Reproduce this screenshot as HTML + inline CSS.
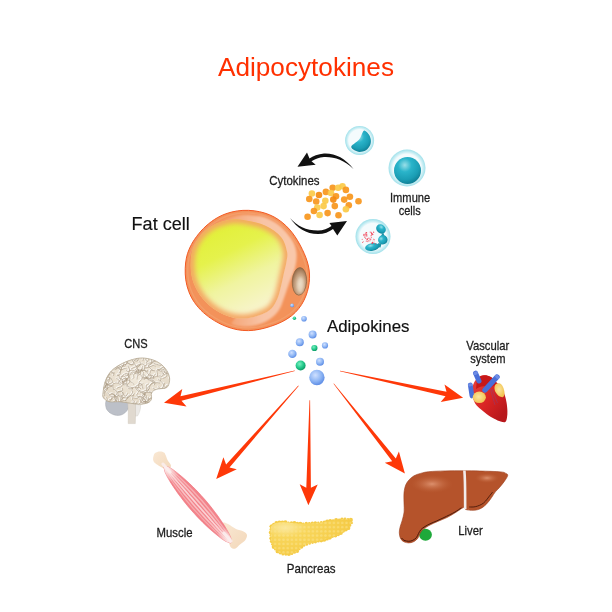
<!DOCTYPE html>
<html><head><meta charset="utf-8"><style>
html,body{margin:0;padding:0;background:#fff;}
svg{display:block;}
text{font-family:"Liberation Sans", sans-serif;}
</style></head><body>
<svg width="612" height="612" viewBox="0 0 612 612">
<rect width="612" height="612" fill="#fff"/>
<defs>
 <filter id="blur1" x="-20%" y="-20%" width="140%" height="140%"><feGaussianBlur stdDeviation="1"/></filter>
 <filter id="blur05" x="-20%" y="-20%" width="140%" height="140%"><feGaussianBlur stdDeviation="0.5"/></filter>
 <filter id="blur3" x="-30%" y="-30%" width="160%" height="160%"><feGaussianBlur stdDeviation="2.6"/></filter>
 <filter id="blur15" x="-10%" y="-10%" width="120%" height="120%"><feGaussianBlur stdDeviation="1.5"/></filter>
 <filter id="blur22" x="-30%" y="-30%" width="160%" height="160%"><feGaussianBlur stdDeviation="2.2"/></filter>
 <filter id="blur2" x="-30%" y="-30%" width="160%" height="160%"><feGaussianBlur stdDeviation="2"/></filter>
 <linearGradient id="gYellow" x1="0.3" y1="0.08" x2="0.68" y2="0.88">
   <stop offset="0" stop-color="#e2f03a"/>
   <stop offset="0.3" stop-color="#e5f24c"/>
   <stop offset="0.65" stop-color="#f0f4a0"/>
   <stop offset="1" stop-color="#f7f4c8"/>
 </linearGradient>
 <radialGradient id="gEdge" cx="0.5" cy="0.5" r="0.5">
   <stop offset="0.7" stop-color="#f5bc70" stop-opacity="0"/>
   <stop offset="0.87" stop-color="#f5b468" stop-opacity="0.55"/>
   <stop offset="0.96" stop-color="#f4a262" stop-opacity="0.92"/>
   <stop offset="1" stop-color="#f3985c" stop-opacity="1"/>
 </radialGradient>
 <linearGradient id="gLight" x1="0" y1="0" x2="1" y2="0">
   <stop offset="0" stop-color="#f8c4a6" stop-opacity="0"/>
   <stop offset="0.35" stop-color="#f8c4a6" stop-opacity="0.6"/>
   <stop offset="0.6" stop-color="#f8c4a6" stop-opacity="1"/>
   <stop offset="1" stop-color="#f9c8aa" stop-opacity="1"/>
 </linearGradient>
 <radialGradient id="gNuc" cx="0.55" cy="0.6" r="0.6">
   <stop offset="0" stop-color="#e6d6c0"/>
   <stop offset="0.6" stop-color="#c4a080"/>
   <stop offset="1" stop-color="#946a48"/>
 </radialGradient>
 <radialGradient id="gBlue" cx="0.4" cy="0.35" r="0.65">
   <stop offset="0" stop-color="#cfe0ff"/>
   <stop offset="0.6" stop-color="#8fb6f4"/>
   <stop offset="1" stop-color="#5f8ee6"/>
 </radialGradient>
 <radialGradient id="gGreen" cx="0.4" cy="0.35" r="0.65">
   <stop offset="0" stop-color="#7af0c0"/>
   <stop offset="0.6" stop-color="#22c88a"/>
   <stop offset="1" stop-color="#0e9a66"/>
 </radialGradient>
 <radialGradient id="gTeal" cx="0.4" cy="0.3" r="0.72">
   <stop offset="0" stop-color="#9adfe8"/>
   <stop offset="0.35" stop-color="#2ab4ca"/>
   <stop offset="0.75" stop-color="#1a9db4"/>
   <stop offset="1" stop-color="#0f7e94"/>
 </radialGradient>
 <radialGradient id="gCellBg" cx="0.5" cy="0.5" r="0.5">
   <stop offset="0.75" stop-color="#f4fbfd"/>
   <stop offset="0.88" stop-color="#c5edf3"/>
   <stop offset="1" stop-color="#9fe0ea"/>
 </radialGradient>
 <radialGradient id="gLiverHi" cx="0.5" cy="0.5" r="0.5">
   <stop offset="0" stop-color="#e39a78" stop-opacity="0.85"/>
   <stop offset="1" stop-color="#c0643a" stop-opacity="0"/>
 </radialGradient>
 <linearGradient id="gMuscle" x1="0" y1="0" x2="1" y2="0">
   <stop offset="0" stop-color="#ec6f7a"/>
   <stop offset="0.5" stop-color="#f6a9ae"/>
   <stop offset="1" stop-color="#ec7680"/>
 </linearGradient>
 <linearGradient id="gBone" x1="0" y1="0" x2="1" y2="1">
   <stop offset="0" stop-color="#f9e8d4"/>
   <stop offset="1" stop-color="#f3d8ba"/>
 </linearGradient>
 <radialGradient id="gPanc" cx="0.18" cy="0.25" r="0.85">
   <stop offset="0" stop-color="#fbe8a0"/>
   <stop offset="0.3" stop-color="#f8d65c"/>
   <stop offset="1" stop-color="#f5ca44"/>
 </radialGradient>
 <pattern id="pPanc" x="0" y="0" width="4.2" height="4.2" patternUnits="userSpaceOnUse">
   <circle cx="2.1" cy="2.1" r="1.3" fill="#fbe38e" opacity="0.55"/>
 </pattern>
 <linearGradient id="gHeart" x1="0.1" y1="0.2" x2="0.8" y2="0.9">
   <stop offset="0" stop-color="#e33a36"/>
   <stop offset="0.5" stop-color="#d92424"/>
   <stop offset="1" stop-color="#b8181c"/>
 </linearGradient>
 <radialGradient id="gFatY" cx="0.45" cy="0.45" r="0.6">
   <stop offset="0" stop-color="#fbe6a0"/>
   <stop offset="1" stop-color="#f2c24c"/>
 </radialGradient>
 <radialGradient id="gBrain" cx="0.5" cy="0.4" r="0.6">
   <stop offset="0" stop-color="#f2ebde"/>
   <stop offset="1" stop-color="#e3d8c6"/>
 </radialGradient>
</defs>
<g opacity="0.999">
<text x="218.0" y="76.0" font-size="26.5" fill="#ff3000" textLength="176.0" lengthAdjust="spacingAndGlyphs" >Adipocytokines</text>
<text x="131.6" y="229.6" font-size="17.5" fill="#111" stroke="#111" stroke-width="0.15" textLength="58.2" lengthAdjust="spacingAndGlyphs" >Fat cell</text>
<text x="327.0" y="332.0" font-size="15.6" fill="#111" stroke="#111" stroke-width="0.15" textLength="82.5" lengthAdjust="spacingAndGlyphs" >Adipokines</text>
<text x="269.3" y="185.3" font-size="12.5" fill="#1c1c1c" stroke="#1c1c1c" stroke-width="0.28" textLength="50.3" lengthAdjust="spacingAndGlyphs" >Cytokines</text>
<text x="390.0" y="202.2" font-size="13.0" fill="#1c1c1c" stroke="#1c1c1c" stroke-width="0.28" textLength="40.2" lengthAdjust="spacingAndGlyphs" >Immune</text>
<text x="398.7" y="215.4" font-size="13.0" fill="#1c1c1c" stroke="#1c1c1c" stroke-width="0.28" textLength="22.0" lengthAdjust="spacingAndGlyphs" >cells</text>
<text x="124.2" y="348.3" font-size="12.2" fill="#1c1c1c" stroke="#1c1c1c" stroke-width="0.28" textLength="23.4" lengthAdjust="spacingAndGlyphs" >CNS</text>
<text x="466.3" y="349.7" font-size="13.0" fill="#1c1c1c" stroke="#1c1c1c" stroke-width="0.28" textLength="43.0" lengthAdjust="spacingAndGlyphs" >Vascular</text>
<text x="470.2" y="363.0" font-size="13.0" fill="#1c1c1c" stroke="#1c1c1c" stroke-width="0.28" textLength="35.2" lengthAdjust="spacingAndGlyphs" >system</text>
<text x="156.5" y="536.7" font-size="12.6" fill="#1c1c1c" stroke="#1c1c1c" stroke-width="0.28" textLength="36.0" lengthAdjust="spacingAndGlyphs" >Muscle</text>
<text x="286.8" y="572.8" font-size="13.5" fill="#1c1c1c" stroke="#1c1c1c" stroke-width="0.28" textLength="48.8" lengthAdjust="spacingAndGlyphs" >Pancreas</text>
<text x="458.2" y="534.7" font-size="13.2" fill="#1c1c1c" stroke="#1c1c1c" stroke-width="0.28" textLength="24.5" lengthAdjust="spacingAndGlyphs" >Liver</text>
</g>
<path d="M248.60,210.35 C252.34,210.48 256.16,210.98 259.65,211.73 C263.14,212.47 266.46,213.51 269.55,214.80 C272.64,216.09 275.46,217.65 278.18,219.45 C280.89,221.25 283.48,223.38 285.82,225.60 C288.17,227.82 290.30,230.22 292.27,232.75 C294.25,235.28 296.00,237.98 297.68,240.75 C299.35,243.52 300.94,246.52 302.32,249.38 C303.71,252.23 304.98,255.10 306.00,257.88 C307.02,260.65 307.84,263.31 308.43,266.00 C309.01,268.69 309.37,271.25 309.50,274.00 C309.63,276.75 309.55,279.55 309.20,282.48 C308.85,285.40 308.25,288.57 307.38,291.55 C306.50,294.53 305.38,297.54 303.95,300.38 C302.52,303.21 300.86,305.96 298.77,308.55 C296.69,311.14 294.28,313.67 291.43,315.90 C288.57,318.13 285.17,320.19 281.65,321.95 C278.13,323.71 274.07,325.21 270.32,326.45 C266.57,327.69 262.81,328.70 259.15,329.40 C255.49,330.10 252.01,330.58 248.35,330.62 C244.69,330.67 240.96,330.39 237.20,329.67 C233.44,328.96 229.59,327.83 225.77,326.32 C221.96,324.82 218.05,322.91 214.33,320.62 C210.60,318.34 206.74,315.63 203.45,312.62 C200.16,309.62 197.03,306.13 194.57,302.60 C192.12,299.07 190.19,295.22 188.73,291.42 C187.26,287.63 186.36,283.71 185.77,279.85 C185.19,275.99 185.12,271.87 185.22,268.25 C185.32,264.63 185.73,261.28 186.38,258.12 C187.02,254.97 187.73,252.47 189.10,249.32 C190.48,246.18 192.23,242.73 194.62,239.25 C197.02,235.77 200.17,231.73 203.45,228.45 C206.73,225.17 210.60,222.02 214.32,219.57 C218.05,217.13 221.96,215.24 225.78,213.80 C229.59,212.36 233.40,211.52 237.20,210.95 C241.00,210.38 244.86,210.22 248.60,210.35 Z" fill="#f3925a" stroke="#f35a24" stroke-width="1"/>
<path d="M248.55,212.95 C252.13,213.08 255.78,213.56 259.12,214.27 C262.46,214.98 265.64,215.98 268.59,217.22 C271.55,218.45 274.25,219.95 276.84,221.68 C279.43,223.41 281.90,225.45 284.14,227.58 C286.38,229.70 288.40,232.01 290.29,234.43 C292.17,236.84 293.84,239.43 295.44,242.08 C297.04,244.72 298.56,247.59 299.90,250.31 C301.24,253.03 302.47,255.78 303.46,258.42 C304.45,261.07 305.26,263.62 305.83,266.19 C306.41,268.76 306.77,271.22 306.90,273.85 C307.04,276.48 306.98,279.17 306.65,281.98 C306.32,284.79 305.75,287.82 304.92,290.69 C304.09,293.55 303.02,296.44 301.65,299.16 C300.28,301.88 298.69,304.52 296.69,307.00 C294.68,309.48 292.36,311.90 289.62,314.03 C286.87,316.16 283.59,318.12 280.21,319.78 C276.83,321.45 272.94,322.87 269.34,324.04 C265.75,325.22 262.15,326.19 258.65,326.85 C255.14,327.51 251.81,327.98 248.31,328.03 C244.81,328.07 241.25,327.80 237.65,327.11 C234.05,326.43 230.37,325.34 226.72,323.90 C223.07,322.46 219.32,320.64 215.76,318.46 C212.20,316.28 208.49,313.70 205.33,310.83 C202.17,307.96 199.16,304.63 196.80,301.25 C194.44,297.87 192.58,294.18 191.17,290.55 C189.77,286.92 188.90,283.16 188.35,279.46 C187.79,275.76 187.73,271.81 187.82,268.34 C187.92,264.87 188.30,261.66 188.92,258.64 C189.54,255.62 190.22,253.22 191.54,250.21 C192.87,247.20 194.57,243.90 196.86,240.57 C199.16,237.25 202.18,233.38 205.33,230.25 C208.48,227.11 212.18,224.09 215.74,221.75 C219.31,219.42 223.06,217.60 226.71,216.23 C230.36,214.85 234.00,214.06 237.64,213.51 C241.28,212.97 244.97,212.82 248.55,212.95 Z" fill="none" stroke="#f6a878" stroke-width="1.4" opacity="0.5"/>
<path d="M212.00,228.00 C211.17,224.58 220.33,221.58 225.00,219.50 C229.67,217.42 235.50,216.17 240.00,215.50 C244.50,214.83 247.83,215.17 252.00,215.50 C256.17,215.83 260.33,215.75 265.00,217.50 C269.67,219.25 275.50,222.25 280.00,226.00 C284.50,229.75 289.25,235.50 292.00,240.00 C294.75,244.50 296.00,248.33 296.50,253.00 C297.00,257.67 296.17,263.17 295.00,268.00 C293.83,272.83 291.33,277.00 289.50,282.00 C287.67,287.00 285.75,293.33 284.00,298.00 C282.25,302.67 281.33,306.50 279.00,310.00 C276.67,313.50 273.50,316.58 270.00,319.00 C266.50,321.42 262.17,323.25 258.00,324.50 C253.83,325.75 249.33,326.58 245.00,326.50 C240.67,326.42 233.50,325.75 232.00,324.00 C230.50,322.25 231.33,325.00 236.00,316.00 C240.67,307.00 261.00,282.67 260.00,270.00 C259.00,257.33 238.00,247.00 230.00,240.00 C222.00,233.00 212.83,231.42 212.00,228.00 Z" fill="url(#gLight)" filter="url(#blur1)"/>
<clipPath id="cDrop"><path d="M240.00,219.50 C246.50,220.33 258.17,222.58 265.00,225.50 C271.83,228.42 277.33,232.67 281.00,237.00 C284.67,241.33 286.08,247.42 287.00,251.50 C287.92,255.58 287.08,257.58 286.50,261.50 C285.92,265.42 284.50,270.50 283.50,275.00 C282.50,279.50 281.50,284.58 280.50,288.50 C279.50,292.42 279.00,295.17 277.50,298.50 C276.00,301.83 274.17,305.83 271.50,308.50 C268.83,311.17 265.48,312.87 261.50,314.50 C257.52,316.13 252.52,317.82 247.60,318.30 C242.68,318.78 237.27,318.70 232.00,317.40 C226.73,316.10 220.92,313.65 216.00,310.50 C211.08,307.35 206.25,303.08 202.50,298.50 C198.75,293.92 195.48,288.25 193.50,283.00 C191.52,277.75 190.77,272.58 190.60,267.00 C190.43,261.42 190.85,254.75 192.50,249.50 C194.15,244.25 197.20,239.50 200.50,235.50 C203.80,231.50 208.05,228.00 212.30,225.50 C216.55,223.00 221.38,221.50 226.00,220.50 C230.62,219.50 233.50,218.67 240.00,219.50 Z"/></clipPath>
<g clip-path="url(#cDrop)"><path d="M240.00,219.50 C246.50,220.33 258.17,222.58 265.00,225.50 C271.83,228.42 277.33,232.67 281.00,237.00 C284.67,241.33 286.08,247.42 287.00,251.50 C287.92,255.58 287.08,257.58 286.50,261.50 C285.92,265.42 284.50,270.50 283.50,275.00 C282.50,279.50 281.50,284.58 280.50,288.50 C279.50,292.42 279.00,295.17 277.50,298.50 C276.00,301.83 274.17,305.83 271.50,308.50 C268.83,311.17 265.48,312.87 261.50,314.50 C257.52,316.13 252.52,317.82 247.60,318.30 C242.68,318.78 237.27,318.70 232.00,317.40 C226.73,316.10 220.92,313.65 216.00,310.50 C211.08,307.35 206.25,303.08 202.50,298.50 C198.75,293.92 195.48,288.25 193.50,283.00 C191.52,277.75 190.77,272.58 190.60,267.00 C190.43,261.42 190.85,254.75 192.50,249.50 C194.15,244.25 197.20,239.50 200.50,235.50 C203.80,231.50 208.05,228.00 212.30,225.50 C216.55,223.00 221.38,221.50 226.00,220.50 C230.62,219.50 233.50,218.67 240.00,219.50 Z" fill="url(#gYellow)"/><path d="M240.00,219.50 C246.50,220.33 258.17,222.58 265.00,225.50 C271.83,228.42 277.33,232.67 281.00,237.00 C284.67,241.33 286.08,247.42 287.00,251.50 C287.92,255.58 287.08,257.58 286.50,261.50 C285.92,265.42 284.50,270.50 283.50,275.00 C282.50,279.50 281.50,284.58 280.50,288.50 C279.50,292.42 279.00,295.17 277.50,298.50 C276.00,301.83 274.17,305.83 271.50,308.50 C268.83,311.17 265.48,312.87 261.50,314.50 C257.52,316.13 252.52,317.82 247.60,318.30 C242.68,318.78 237.27,318.70 232.00,317.40 C226.73,316.10 220.92,313.65 216.00,310.50 C211.08,307.35 206.25,303.08 202.50,298.50 C198.75,293.92 195.48,288.25 193.50,283.00 C191.52,277.75 190.77,272.58 190.60,267.00 C190.43,261.42 190.85,254.75 192.50,249.50 C194.15,244.25 197.20,239.50 200.50,235.50 C203.80,231.50 208.05,228.00 212.30,225.50 C216.55,223.00 221.38,221.50 226.00,220.50 C230.62,219.50 233.50,218.67 240.00,219.50 Z" fill="none" stroke="#f4a664" stroke-width="8" filter="url(#blur3)"/></g>
<ellipse cx="299.4" cy="281.4" rx="7.2" ry="13.8" transform="rotate(3 299.4 281.4)" fill="url(#gNuc)" stroke="#8a6442" stroke-width="0.7"/>
<ellipse cx="300.5" cy="285" rx="3.2" ry="8" transform="rotate(3 300.5 285)" fill="#f0e2cc" opacity="0.6" filter="url(#blur1)"/>
<path d="M353.5,169 C345,158 335,153 324,153.5 C318,154 313,156 309.5,158.5 L307,152.5 L297.5,166.8 L315.7,164.8 L311.5,161.2 C315,159 319,157.5 324,157 C334,156.5 344,160 353.5,169 Z" fill="#111"/>
<path d="M290,218 C297,228 306,234 318,234 C324,234 329,232 333,229 L337.3,235.5 L347,221 L329.4,223 L331.5,226 C328,228.5 323,230.5 318,230.5 C306,230.5 297,226 290,218 Z" fill="#111"/>
<circle cx="332.7" cy="187.8" r="3.3" fill="#f7961c" opacity="0.92"/>
<circle cx="338.2" cy="187.8" r="3.3" fill="#fbca48" opacity="0.92"/>
<circle cx="342.5" cy="186.2" r="3.3" fill="#fbca48" opacity="0.92"/>
<circle cx="345.9" cy="189.9" r="3.3" fill="#f7961c" opacity="0.92"/>
<circle cx="311.9" cy="193.5" r="3.3" fill="#fbca48" opacity="0.92"/>
<circle cx="319.0" cy="195.0" r="3.3" fill="#f38a10" opacity="0.92"/>
<circle cx="325.9" cy="191.9" r="3.3" fill="#f7961c" opacity="0.92"/>
<circle cx="331.0" cy="193.0" r="3.3" fill="#fbca48" opacity="0.92"/>
<circle cx="336.0" cy="196.2" r="3.3" fill="#f7961c" opacity="0.92"/>
<circle cx="349.9" cy="196.7" r="3.3" fill="#f7961c" opacity="0.92"/>
<circle cx="309.3" cy="199.0" r="3.3" fill="#f7961c" opacity="0.92"/>
<circle cx="316.2" cy="201.5" r="3.3" fill="#f7961c" opacity="0.92"/>
<circle cx="325.3" cy="200.7" r="3.3" fill="#fbca48" opacity="0.92"/>
<circle cx="333.3" cy="199.6" r="3.3" fill="#f38a10" opacity="0.92"/>
<circle cx="344.2" cy="199.6" r="3.3" fill="#f7961c" opacity="0.92"/>
<circle cx="358.5" cy="201.3" r="3.3" fill="#f7961c" opacity="0.92"/>
<circle cx="317.3" cy="207.6" r="3.3" fill="#fbca48" opacity="0.92"/>
<circle cx="323.6" cy="206.1" r="3.3" fill="#fbca48" opacity="0.92"/>
<circle cx="334.8" cy="206.1" r="3.3" fill="#f7961c" opacity="0.92"/>
<circle cx="348.8" cy="205.3" r="3.3" fill="#f7961c" opacity="0.92"/>
<circle cx="345.9" cy="209.3" r="3.3" fill="#fbca48" opacity="0.92"/>
<circle cx="313.9" cy="211.0" r="3.3" fill="#f7961c" opacity="0.92"/>
<circle cx="319.6" cy="215.0" r="3.3" fill="#fbca48" opacity="0.92"/>
<circle cx="327.6" cy="213.1" r="3.3" fill="#f7961c" opacity="0.92"/>
<circle cx="338.5" cy="215.3" r="3.3" fill="#f7961c" opacity="0.92"/>
<circle cx="307.6" cy="216.7" r="3.3" fill="#f7961c" opacity="0.92"/>
<circle cx="359.6" cy="140.4" r="14.5" fill="url(#gCellBg)"/>
<path d="M364.50,130.60 C365.50,130.80 367.47,132.60 368.50,134.00 C369.53,135.40 370.40,137.20 370.70,139.00 C371.00,140.80 371.08,142.92 370.30,144.80 C369.52,146.68 367.78,149.12 366.00,150.30 C364.22,151.48 361.53,151.90 359.60,151.90 C357.67,151.90 355.80,151.15 354.40,150.30 C353.00,149.45 351.10,148.00 351.20,146.80 C351.30,145.60 353.70,144.27 355.00,143.10 C356.30,141.93 358.00,140.93 359.00,139.80 C360.00,138.67 360.42,137.47 361.00,136.30 C361.58,135.13 361.92,133.75 362.50,132.80 C363.08,131.85 363.50,130.40 364.50,130.60 Z" fill="url(#gTeal)"/>
<circle cx="407" cy="168" r="18.5" fill="url(#gCellBg)"/>
<circle cx="407.5" cy="170.5" r="13.5" fill="url(#gTeal)"/>
<circle cx="373" cy="236.5" r="17.5" fill="url(#gCellBg)"/>
<ellipse cx="381" cy="229" rx="5.2" ry="4.3" transform="rotate(40 381 229)" fill="url(#gTeal)"/>
<path d="M383,232 L384.5,236 L381,236 Z" fill="#1e93a8"/>
<ellipse cx="382.8" cy="239.8" rx="4.8" ry="4.6" transform="rotate(-30 382.8 239.8)" fill="url(#gTeal)"/>
<path d="M378.5,243 C380,243.5 381.5,244 382,242 L380.5,247.5 L376.5,247 Z" fill="#1e93a8"/>
<ellipse cx="372.2" cy="247" rx="7.2" ry="3.8" transform="rotate(-10 372.2 247)" fill="url(#gTeal)"/>
<circle cx="365.6" cy="238.5" r="0.6" fill="#f2344a" opacity="0.72"/>
<circle cx="371.4" cy="232.8" r="0.4" fill="#f2344a" opacity="0.83"/>
<circle cx="365.9" cy="234.8" r="0.9" fill="#f2344a" opacity="0.66"/>
<circle cx="371.6" cy="233.8" r="0.7" fill="#f2344a" opacity="0.84"/>
<circle cx="369.8" cy="240.9" r="0.7" fill="#f2344a" opacity="0.48"/>
<circle cx="373.4" cy="239.1" r="0.5" fill="#f2344a" opacity="0.46"/>
<circle cx="372.8" cy="242.5" r="0.7" fill="#f2344a" opacity="0.86"/>
<circle cx="367.9" cy="241.6" r="0.6" fill="#f2344a" opacity="0.87"/>
<circle cx="364.0" cy="234.6" r="0.9" fill="#f2344a" opacity="0.65"/>
<circle cx="371.4" cy="235.6" r="0.6" fill="#f2344a" opacity="0.62"/>
<circle cx="367.3" cy="239.0" r="0.7" fill="#f2344a" opacity="0.86"/>
<circle cx="372.2" cy="243.1" r="0.8" fill="#f2344a" opacity="0.90"/>
<circle cx="372.1" cy="234.0" r="0.8" fill="#f2344a" opacity="0.88"/>
<circle cx="372.7" cy="234.5" r="0.8" fill="#f2344a" opacity="0.71"/>
<circle cx="366.3" cy="232.8" r="0.8" fill="#f2344a" opacity="0.90"/>
<circle cx="363.3" cy="241.6" r="0.6" fill="#f2344a" opacity="0.52"/>
<circle cx="366.4" cy="241.2" r="0.8" fill="#f2344a" opacity="0.47"/>
<circle cx="371.2" cy="232.5" r="0.7" fill="#f2344a" opacity="0.60"/>
<circle cx="375.2" cy="243.8" r="0.6" fill="#f2344a" opacity="0.90"/>
<circle cx="366.6" cy="232.9" r="0.7" fill="#f2344a" opacity="0.46"/>
<circle cx="365.0" cy="236.9" r="0.7" fill="#f2344a" opacity="0.52"/>
<circle cx="362.6" cy="242.4" r="0.5" fill="#f2344a" opacity="0.88"/>
<circle cx="368.9" cy="238.2" r="0.7" fill="#f2344a" opacity="0.72"/>
<circle cx="370.4" cy="239.4" r="0.9" fill="#f2344a" opacity="0.68"/>
<circle cx="368.5" cy="240.6" r="0.5" fill="#f2344a" opacity="0.59"/>
<circle cx="370.2" cy="232.1" r="0.6" fill="#f2344a" opacity="0.71"/>
<circle cx="362.3" cy="239.4" r="0.7" fill="#f2344a" opacity="0.48"/>
<circle cx="371.4" cy="237.6" r="0.7" fill="#f2344a" opacity="0.61"/>
<circle cx="372.6" cy="240.9" r="0.4" fill="#f2344a" opacity="0.48"/>
<circle cx="372.1" cy="243.6" r="0.5" fill="#f2344a" opacity="0.66"/>
<circle cx="370.9" cy="235.8" r="0.6" fill="#f2344a" opacity="0.59"/>
<circle cx="367.5" cy="239.1" r="0.5" fill="#f2344a" opacity="0.62"/>
<circle cx="373.6" cy="232.3" r="0.7" fill="#f2344a" opacity="0.78"/>
<circle cx="366.7" cy="234.7" r="0.8" fill="#f2344a" opacity="0.56"/>
<circle cx="364.8" cy="237.2" r="0.7" fill="#f2344a" opacity="0.50"/>
<circle cx="366.8" cy="236.0" r="0.8" fill="#f2344a" opacity="0.65"/>
<circle cx="367.1" cy="239.8" r="0.8" fill="#f2344a" opacity="0.65"/>
<circle cx="365.4" cy="233.5" r="0.6" fill="#f2344a" opacity="0.54"/>
<circle cx="374.1" cy="242.1" r="0.5" fill="#f2344a" opacity="0.58"/>
<circle cx="374.1" cy="239.7" r="0.8" fill="#f2344a" opacity="0.61"/>
<circle cx="363.9" cy="235.5" r="0.8" fill="#f2344a" opacity="0.57"/>
<circle cx="292.1" cy="305.4" r="1.9" fill="url(#gBlue)"/>
<circle cx="294.4" cy="318.3" r="1.7" fill="url(#gGreen)"/>
<circle cx="304.0" cy="318.7" r="2.8" fill="url(#gBlue)"/>
<circle cx="312.6" cy="334.5" r="4.0" fill="url(#gBlue)"/>
<circle cx="299.8" cy="342.3" r="4.0" fill="url(#gBlue)"/>
<circle cx="314.4" cy="348.0" r="3.1" fill="url(#gGreen)"/>
<circle cx="325.0" cy="345.4" r="3.1" fill="url(#gBlue)"/>
<circle cx="292.4" cy="353.9" r="4.2" fill="url(#gBlue)"/>
<circle cx="300.6" cy="365.5" r="5.0" fill="url(#gGreen)"/>
<circle cx="320.0" cy="361.7" r="4.0" fill="url(#gBlue)"/>
<circle cx="316.9" cy="377.5" r="7.7" fill="url(#gBlue)"/>
<polygon fill="#fe3808" points="294.9,371.0 181.5,400.8 186.5,406.5 164.0,402.7 182.3,389.0 180.5,396.3 294.7,370.4"/>
<polygon fill="#fe3808" points="298.7,386.0 229.5,467.4 236.8,469.2 216.2,479.0 223.4,457.3 226.1,464.4 298.3,385.6"/>
<polygon fill="#fe3808" points="310.1,400.2 310.9,487.8 317.7,484.4 308.4,505.3 299.7,484.2 306.3,487.8 309.5,400.2"/>
<polygon fill="#fe3808" points="333.9,383.4 395.8,458.4 398.9,451.5 404.9,473.6 384.8,462.7 392.2,461.3 333.5,383.8"/>
<polygon fill="#fe3808" points="340.1,370.7 446.5,391.8 444.5,384.5 463.1,397.8 440.7,402.1 445.5,396.3 339.9,371.3"/>
<path d="M106,401 C112,400 122,401 128.5,402 C130,407 127,413 121,415 C115,416.5 109,413.5 106.5,409 C105.5,406 105.3,403 106,401 Z" fill="#bcc0c8" stroke="#9ea2aa" stroke-width="0.5"/>
<path d="M135,404 L140.6,405 C140.8,409 139.5,413 137.5,416 L135,416 Z" fill="#ebe9e6" stroke="#cfccc6" stroke-width="0.4"/>
<path d="M127.8,403 L135.5,404 L135.5,416 L135.3,423.6 L128.2,423.6 L128.3,412 Z" fill="#e0d9cf" stroke="#c8c0b4" stroke-width="0.4"/>
<clipPath id="cBrain"><path d="M103.00,393.00 C103.32,390.10 104.05,384.33 105.50,380.60 C106.95,376.87 108.82,373.50 111.70,370.60 C114.58,367.70 118.87,365.17 122.80,363.20 C126.73,361.23 131.57,359.63 135.30,358.80 C139.03,357.97 141.68,357.78 145.20,358.20 C148.72,358.62 153.10,359.65 156.40,361.30 C159.70,362.95 162.83,365.52 165.00,368.10 C167.17,370.68 168.77,374.10 169.40,376.80 C170.03,379.50 169.42,382.43 168.80,384.30 C168.18,386.17 167.77,387.17 165.70,388.00 C163.63,388.83 158.75,388.47 156.40,389.30 C154.05,390.13 152.43,391.35 151.60,393.00 C150.77,394.65 152.05,397.55 151.40,399.20 C150.75,400.85 149.77,402.07 147.70,402.90 C145.63,403.73 142.12,404.18 139.00,404.20 C135.88,404.22 132.32,403.42 129.00,403.00 C125.68,402.58 122.40,401.92 119.10,401.70 C115.80,401.48 111.78,402.32 109.20,401.70 C106.62,401.08 104.63,399.45 103.60,398.00 C102.57,396.55 102.68,395.90 103.00,393.00 Z"/></clipPath>
<path d="M103.00,393.00 C103.32,390.10 104.05,384.33 105.50,380.60 C106.95,376.87 108.82,373.50 111.70,370.60 C114.58,367.70 118.87,365.17 122.80,363.20 C126.73,361.23 131.57,359.63 135.30,358.80 C139.03,357.97 141.68,357.78 145.20,358.20 C148.72,358.62 153.10,359.65 156.40,361.30 C159.70,362.95 162.83,365.52 165.00,368.10 C167.17,370.68 168.77,374.10 169.40,376.80 C170.03,379.50 169.42,382.43 168.80,384.30 C168.18,386.17 167.77,387.17 165.70,388.00 C163.63,388.83 158.75,388.47 156.40,389.30 C154.05,390.13 152.43,391.35 151.60,393.00 C150.77,394.65 152.05,397.55 151.40,399.20 C150.75,400.85 149.77,402.07 147.70,402.90 C145.63,403.73 142.12,404.18 139.00,404.20 C135.88,404.22 132.32,403.42 129.00,403.00 C125.68,402.58 122.40,401.92 119.10,401.70 C115.80,401.48 111.78,402.32 109.20,401.70 C106.62,401.08 104.63,399.45 103.60,398.00 C102.57,396.55 102.68,395.90 103.00,393.00 Z" fill="url(#gBrain)"/>
<g clip-path="url(#cBrain)" fill="none" stroke-linecap="round"><g stroke="#faf8f4" stroke-width="1.3" transform="translate(-0.6,-0.6)"><path d="M101.48,356.85 C101.12,356.92 100.04,357.22 99.32,357.28 C98.59,357.34 97.74,356.96 97.12,357.21 C96.49,357.45 96.09,358.25 95.57,358.77 C95.04,359.28 94.57,359.88 93.97,360.28 C93.37,360.68 92.64,361.15 91.96,361.17 C91.28,361.20 90.23,360.56 89.89,360.43"/><path d="M105.75,355.61 C105.82,355.97 106.21,357.06 106.17,357.76 C106.13,358.47 105.34,359.28 105.51,359.86 C105.68,360.44 107.06,360.68 107.21,361.26 C107.36,361.83 106.92,362.97 106.42,363.31 C105.92,363.65 104.92,363.44 104.22,363.29 C103.51,363.14 102.53,362.57 102.20,362.42"/><path d="M111.99,355.31 C112.35,355.38 113.59,355.93 114.16,355.68 C114.72,355.44 115.26,354.52 115.39,353.86 C115.52,353.20 115.29,352.30 114.93,351.71 C114.57,351.12 113.82,350.36 113.23,350.31 C112.63,350.27 111.94,351.03 111.33,351.43 C110.72,351.83 109.85,352.51 109.55,352.72"/><path d="M116.84,356.68 C116.51,356.51 115.54,356.00 114.89,355.66 C114.24,355.32 113.50,355.09 112.94,354.64 C112.39,354.18 112.07,353.45 111.59,352.90 C111.11,352.35 110.66,351.67 110.05,351.33 C109.43,350.99 108.28,351.30 107.90,350.85 C107.52,350.41 107.80,349.02 107.77,348.66"/><path d="M123.15,356.68 C122.90,356.41 122.27,355.38 121.66,355.06 C121.04,354.75 120.17,354.69 119.47,354.79 C118.78,354.90 117.81,355.19 117.47,355.70 C117.13,356.22 117.66,357.26 117.41,357.90 C117.16,358.55 116.36,358.95 115.96,359.56 C115.55,360.16 115.14,361.20 114.98,361.53"/><path d="M128.05,355.77 C128.34,355.99 129.23,357.09 129.82,357.09 C130.40,357.08 131.21,356.33 131.55,355.74 C131.90,355.15 131.50,354.05 131.90,353.57 C132.30,353.08 133.29,353.09 133.97,352.82 C134.65,352.54 135.39,351.79 135.97,351.91 C136.55,352.03 137.22,353.25 137.47,353.52"/><path d="M132.35,355.15 C132.34,354.78 132.51,353.61 132.28,352.95 C132.05,352.28 131.56,351.42 130.98,351.17 C130.40,350.93 129.47,351.22 128.80,351.47 C128.13,351.71 127.55,352.67 126.95,352.65 C126.34,352.63 125.57,351.92 125.18,351.35 C124.79,350.77 124.70,349.58 124.61,349.22"/><path d="M136.99,355.49 C137.31,355.31 138.24,354.50 138.91,354.42 C139.59,354.34 140.38,355.10 141.04,354.99 C141.70,354.89 142.24,354.14 142.88,353.79 C143.53,353.45 144.25,353.24 144.89,352.90 C145.54,352.55 146.37,352.28 146.76,351.73 C147.15,351.18 147.14,349.94 147.22,349.58"/><path d="M143.42,355.26 C143.06,355.30 141.95,355.33 141.23,355.47 C140.52,355.61 139.66,355.69 139.13,356.12 C138.60,356.54 138.18,357.34 138.03,358.02 C137.87,358.71 138.50,359.70 138.19,360.22 C137.88,360.73 136.86,361.10 136.18,361.12 C135.51,361.13 134.47,360.46 134.13,360.32"/><path d="M147.77,356.77 C147.95,357.09 148.82,358.02 148.86,358.68 C148.90,359.33 148.40,360.10 148.01,360.70 C147.61,361.31 146.63,361.67 146.48,362.29 C146.32,362.90 147.28,363.85 147.07,364.41 C146.85,364.96 145.61,365.04 145.21,365.59 C144.81,366.14 144.75,367.36 144.66,367.72"/><path d="M152.87,356.55 C152.89,356.91 152.60,358.23 152.95,358.74 C153.29,359.26 154.32,359.72 154.95,359.66 C155.58,359.59 156.09,358.72 156.72,358.35 C157.35,357.98 158.22,357.92 158.72,357.45 C159.23,356.97 159.32,356.09 159.74,355.50 C160.16,354.90 160.98,354.15 161.23,353.88"/><path d="M158.30,355.91 C158.65,355.80 159.69,355.40 160.40,355.26 C161.12,355.11 161.98,354.79 162.59,355.03 C163.20,355.26 163.44,356.39 164.05,356.68 C164.66,356.96 165.64,357.00 166.25,356.73 C166.85,356.45 167.06,355.25 167.65,355.04 C168.25,354.82 169.46,355.38 169.82,355.44"/><path d="M164.39,355.50 C164.30,355.85 164.31,357.21 163.86,357.63 C163.41,358.06 162.26,357.66 161.70,358.03 C161.13,358.40 161.02,359.62 160.45,359.85 C159.89,360.08 158.79,359.82 158.30,359.41 C157.80,359.00 157.66,358.07 157.49,357.36 C157.31,356.66 157.29,355.54 157.25,355.18"/><path d="M168.80,355.21 C168.85,355.57 168.76,356.77 169.07,357.39 C169.38,358.01 170.30,358.31 170.66,358.92 C171.02,359.52 170.87,360.45 171.25,361.03 C171.64,361.61 172.67,361.80 172.98,362.39 C173.29,362.99 173.17,363.86 173.12,364.59 C173.08,365.32 172.78,366.39 172.71,366.75"/><path d="M100.23,361.04 C100.58,360.94 101.63,360.59 102.35,360.45 C103.07,360.30 103.91,359.96 104.53,360.18 C105.15,360.40 105.65,361.17 106.07,361.76 C106.50,362.34 106.60,363.20 107.08,363.71 C107.57,364.22 108.68,364.26 108.99,364.81 C109.29,365.36 108.92,366.64 108.91,367.01"/><path d="M105.49,359.63 C105.50,360.00 105.19,361.32 105.53,361.83 C105.88,362.34 106.88,362.71 107.55,362.70 C108.22,362.70 108.95,362.19 109.55,361.78 C110.14,361.37 110.55,360.70 111.12,360.24 C111.69,359.78 112.64,359.59 112.95,359.02 C113.27,358.45 113.00,357.19 113.01,356.82"/><path d="M111.00,361.38 C111.36,361.49 112.50,361.64 113.12,362.00 C113.73,362.36 114.22,362.99 114.68,363.55 C115.13,364.12 115.30,365.07 115.86,365.41 C116.42,365.74 117.54,365.86 118.06,365.55 C118.57,365.25 119.09,364.14 118.97,363.55 C118.85,362.97 117.62,362.31 117.36,362.06"/><path d="M117.30,361.00 C117.33,360.64 117.31,359.51 117.50,358.81 C117.70,358.12 118.15,357.50 118.45,356.83 C118.75,356.16 118.86,355.34 119.31,354.80 C119.76,354.26 120.67,354.13 121.16,353.61 C121.65,353.10 121.73,351.93 122.27,351.71 C122.81,351.49 124.04,352.17 124.40,352.27"/><path d="M120.83,360.69 C121.13,360.48 121.96,359.64 122.63,359.43 C123.30,359.22 124.15,359.25 124.83,359.44 C125.51,359.63 126.31,360.02 126.73,360.56 C127.14,361.10 127.49,362.07 127.32,362.68 C127.16,363.28 126.15,363.61 125.74,364.20 C125.32,364.79 124.99,365.88 124.84,366.21"/><path d="M127.25,361.40 C127.44,361.09 127.85,359.93 128.39,359.52 C128.94,359.11 129.87,358.80 130.51,358.93 C131.15,359.07 131.71,359.80 132.23,360.31 C132.75,360.82 133.28,361.36 133.66,361.98 C134.03,362.60 134.11,363.40 134.48,364.02 C134.85,364.65 135.64,365.44 135.87,365.73"/><path d="M132.25,360.82 C132.48,361.10 133.63,361.91 133.67,362.49 C133.71,363.08 133.04,364.03 132.47,364.34 C131.90,364.65 130.94,364.55 130.27,364.35 C129.60,364.15 129.09,363.44 128.44,363.13 C127.78,362.82 126.91,362.88 126.33,362.48 C125.76,362.08 125.21,361.03 124.98,360.74"/><path d="M137.44,360.48 C137.26,360.16 136.48,359.26 136.34,358.58 C136.20,357.90 136.89,356.93 136.61,356.40 C136.33,355.87 135.25,355.81 134.65,355.40 C134.05,354.98 133.57,354.40 133.02,353.92 C132.46,353.44 131.96,352.75 131.31,352.53 C130.66,352.30 129.48,352.56 129.11,352.56"/><path d="M142.88,360.59 C142.96,360.24 143.46,359.15 143.40,358.46 C143.35,357.76 143.07,356.73 142.56,356.43 C142.06,356.12 141.04,356.39 140.37,356.63 C139.71,356.87 139.23,357.63 138.57,357.89 C137.90,358.15 136.98,357.87 136.39,358.21 C135.81,358.56 135.28,359.67 135.06,359.96"/><path d="M147.02,361.41 C146.78,361.13 145.71,360.38 145.57,359.75 C145.44,359.13 146.17,358.36 146.23,357.65 C146.28,356.94 145.86,356.19 145.90,355.48 C145.95,354.76 146.59,354.04 146.52,353.36 C146.45,352.69 145.87,352.04 145.46,351.43 C145.06,350.83 144.31,350.01 144.08,349.72"/><path d="M153.49,361.43 C153.67,361.11 154.15,360.11 154.58,359.52 C155.01,358.93 155.72,358.51 156.06,357.88 C156.39,357.26 156.75,356.39 156.61,355.76 C156.47,355.12 155.68,354.62 155.22,354.06 C154.75,353.49 153.97,353.01 153.80,352.37 C153.63,351.73 154.13,350.57 154.19,350.21"/><path d="M158.78,361.02 C159.01,360.74 159.99,359.95 160.15,359.31 C160.32,358.66 159.93,357.85 159.75,357.14 C159.57,356.43 159.48,355.63 159.08,355.05 C158.68,354.47 158.01,353.88 157.36,353.68 C156.71,353.47 155.88,353.70 155.16,353.83 C154.45,353.96 153.41,354.36 153.06,354.47"/><path d="M163.53,360.59 C163.18,360.69 161.97,361.39 161.42,361.19 C160.86,360.99 160.63,359.95 160.18,359.37 C159.73,358.79 159.33,357.90 158.73,357.72 C158.14,357.53 156.99,357.81 156.60,358.27 C156.21,358.73 156.74,359.92 156.39,360.46 C156.03,361.00 154.78,361.34 154.46,361.52"/><path d="M167.56,361.02 C167.20,361.04 166.01,361.35 165.37,361.13 C164.72,360.92 164.28,359.76 163.69,359.71 C163.10,359.66 162.15,360.29 161.81,360.85 C161.47,361.41 161.65,362.31 161.64,363.04 C161.62,363.77 161.36,364.77 161.72,365.24 C162.09,365.71 163.48,365.78 163.83,365.88"/><path d="M101.96,364.48 C102.26,364.70 103.12,365.39 103.74,365.78 C104.36,366.17 105.11,366.37 105.68,366.82 C106.25,367.26 106.80,367.82 107.17,368.44 C107.53,369.06 107.94,369.84 107.89,370.52 C107.85,371.19 107.44,372.19 106.92,372.49 C106.39,372.78 105.09,372.34 104.72,372.31"/><path d="M108.06,364.60 C107.86,364.91 106.82,365.85 106.85,366.44 C106.89,367.03 107.77,367.59 108.26,368.13 C108.75,368.68 109.45,369.10 109.78,369.72 C110.11,370.34 109.85,371.33 110.24,371.87 C110.63,372.42 111.46,372.82 112.14,372.98 C112.82,373.14 113.97,372.86 114.33,372.84"/><path d="M112.58,365.59 C112.25,365.44 111.08,365.16 110.58,364.69 C110.07,364.21 109.98,363.33 109.56,362.73 C109.14,362.14 108.31,361.77 108.05,361.13 C107.80,360.50 107.74,359.48 108.06,358.93 C108.38,358.39 109.67,358.40 109.98,357.86 C110.30,357.31 109.96,356.02 109.95,355.66"/><path d="M118.95,365.64 C119.24,365.88 120.17,366.51 120.64,367.05 C121.12,367.60 121.78,368.30 121.79,368.93 C121.80,369.56 120.96,370.17 120.70,370.84 C120.45,371.52 120.48,372.30 120.27,373.00 C120.07,373.70 119.96,374.63 119.47,375.05 C118.97,375.47 117.67,375.43 117.31,375.50"/><path d="M123.88,366.09 C123.52,366.03 122.38,365.58 121.71,365.73 C121.05,365.87 120.57,366.76 119.90,366.97 C119.23,367.19 118.32,367.28 117.70,367.03 C117.08,366.77 116.57,366.05 116.17,365.44 C115.77,364.84 115.40,364.12 115.32,363.42 C115.23,362.72 115.62,361.61 115.68,361.25"/><path d="M127.92,366.00 C128.08,366.33 128.59,367.31 128.88,367.98 C129.17,368.65 129.66,369.36 129.64,370.04 C129.63,370.72 128.91,371.36 128.79,372.07 C128.67,372.77 129.22,373.70 128.93,374.26 C128.65,374.83 127.74,375.38 127.08,375.45 C126.43,375.52 125.36,374.82 125.02,374.69"/><path d="M133.39,364.37 C133.03,364.45 131.93,364.96 131.25,364.89 C130.56,364.82 129.94,364.23 129.27,363.92 C128.61,363.61 127.86,362.90 127.27,363.01 C126.68,363.13 126.36,364.33 125.74,364.59 C125.12,364.86 124.06,364.26 123.54,364.59 C123.02,364.92 122.76,366.25 122.60,366.58"/><path d="M139.49,364.55 C139.14,364.65 137.86,364.72 137.38,365.17 C136.90,365.62 136.56,366.58 136.63,367.24 C136.70,367.89 137.43,368.47 137.81,369.10 C138.19,369.72 138.74,370.32 138.91,371.00 C139.07,371.69 139.10,372.62 138.78,373.20 C138.46,373.78 137.29,374.28 137.00,374.49"/><path d="M144.47,366.09 C144.31,365.76 144.04,364.46 143.51,364.11 C142.99,363.76 141.97,363.80 141.31,364.01 C140.66,364.23 140.19,364.95 139.60,365.39 C139.02,365.83 138.25,366.11 137.80,366.65 C137.35,367.20 137.37,368.14 136.91,368.67 C136.45,369.20 135.36,369.64 135.05,369.84"/><path d="M149.57,365.25 C149.82,364.98 150.72,364.25 151.06,363.63 C151.40,363.00 151.54,362.22 151.61,361.50 C151.68,360.78 151.24,359.91 151.49,359.30 C151.75,358.69 152.51,357.97 153.13,357.84 C153.76,357.71 154.55,358.56 155.23,358.52 C155.91,358.47 156.88,357.73 157.21,357.57"/><path d="M155.19,366.14 C154.85,366.01 153.80,365.37 153.12,365.40 C152.44,365.43 151.80,366.05 151.12,366.33 C150.45,366.60 149.74,366.82 149.05,367.07 C148.36,367.31 147.68,367.64 146.97,367.79 C146.26,367.93 145.24,367.54 144.78,367.92 C144.31,368.29 144.26,369.68 144.16,370.03"/><path d="M160.63,365.23 C160.27,365.17 159.17,365.06 158.46,364.89 C157.75,364.71 157.07,364.41 156.37,364.19 C155.67,363.97 154.87,363.91 154.27,363.54 C153.66,363.17 153.33,362.12 152.72,361.97 C152.12,361.83 151.35,362.49 150.65,362.69 C149.94,362.90 148.86,363.12 148.51,363.20"/><path d="M164.72,366.11 C164.89,365.79 165.43,364.83 165.75,364.17 C166.07,363.51 166.69,362.81 166.65,362.16 C166.61,361.52 165.93,360.88 165.50,360.29 C165.06,359.70 164.25,359.28 164.04,358.64 C163.84,358.00 163.89,356.97 164.26,356.45 C164.63,355.93 165.92,355.68 166.26,355.53"/><path d="M170.04,364.83 C170.06,365.20 170.47,366.48 170.18,367.03 C169.88,367.58 168.62,367.59 168.27,368.14 C167.93,368.69 168.39,369.71 168.10,370.33 C167.80,370.95 166.62,371.26 166.51,371.85 C166.40,372.44 166.93,373.39 167.43,373.85 C167.93,374.30 169.16,374.46 169.50,374.58"/><path d="M101.06,369.44 C100.75,369.65 99.52,370.11 99.24,370.68 C98.95,371.25 99.53,372.20 99.36,372.88 C99.18,373.56 98.25,374.11 98.21,374.76 C98.18,375.40 98.84,376.08 99.14,376.75 C99.44,377.42 99.55,378.26 100.01,378.77 C100.47,379.29 101.61,379.68 101.92,379.86"/><path d="M105.28,369.86 C105.00,370.10 104.11,370.77 103.62,371.31 C103.13,371.85 102.79,372.52 102.34,373.10 C101.88,373.67 101.09,374.14 100.92,374.78 C100.75,375.42 100.95,376.37 101.32,376.94 C101.68,377.51 102.60,377.70 103.11,378.22 C103.62,378.73 104.16,379.72 104.37,380.02"/><path d="M111.36,369.86 C111.65,369.64 112.47,368.66 113.12,368.54 C113.76,368.42 114.54,369.20 115.23,369.15 C115.92,369.11 116.55,368.34 117.25,368.27 C117.94,368.20 118.85,368.35 119.40,368.74 C119.95,369.13 120.53,369.98 120.54,370.62 C120.56,371.25 119.67,372.23 119.49,372.55"/><path d="M115.91,369.43 C116.04,369.09 116.18,367.68 116.67,367.37 C117.17,367.05 118.33,367.18 118.87,367.54 C119.40,367.89 119.36,369.11 119.89,369.48 C120.43,369.85 121.40,369.92 122.07,369.77 C122.75,369.63 123.28,368.81 123.96,368.64 C124.64,368.46 125.79,368.72 126.15,368.73"/><path d="M121.00,368.99 C121.11,368.65 121.24,367.43 121.68,366.90 C122.11,366.37 123.25,366.38 123.60,365.84 C123.96,365.30 123.83,364.37 123.81,363.65 C123.79,362.92 123.40,362.18 123.46,361.47 C123.52,360.76 124.34,359.95 124.16,359.39 C123.98,358.82 122.69,358.29 122.39,358.07"/><path d="M126.08,370.16 C126.37,370.39 127.19,371.41 127.82,371.52 C128.46,371.62 129.20,371.02 129.90,370.78 C130.59,370.54 131.29,370.07 131.98,370.08 C132.67,370.09 133.36,370.58 134.05,370.83 C134.74,371.08 135.52,371.19 136.11,371.59 C136.70,371.99 137.34,372.96 137.59,373.23"/><path d="M131.26,368.94 C131.58,368.75 132.50,368.15 133.15,367.82 C133.80,367.49 134.50,367.23 135.18,366.96 C135.86,366.69 136.53,366.38 137.23,366.18 C137.94,365.98 138.87,366.17 139.40,365.78 C139.92,365.38 140.35,364.48 140.39,363.81 C140.43,363.14 139.76,362.09 139.63,361.75"/><path d="M136.49,370.48 C136.67,370.80 137.04,372.07 137.59,372.39 C138.14,372.70 139.27,372.71 139.79,372.38 C140.31,372.05 140.18,370.70 140.70,370.38 C141.22,370.06 142.17,370.46 142.90,370.45 C143.63,370.44 144.43,370.11 145.09,370.30 C145.76,370.49 146.59,371.37 146.88,371.58"/><path d="M141.94,369.73 C141.57,369.77 140.47,369.96 139.74,369.92 C139.02,369.89 138.11,369.28 137.58,369.54 C137.05,369.80 137.04,370.96 136.56,371.49 C136.08,372.01 135.36,372.59 134.70,372.67 C134.04,372.74 133.29,371.90 132.62,371.95 C131.95,372.01 131.01,372.83 130.69,373.01"/><path d="M147.39,370.28 C147.32,370.64 146.82,371.80 146.99,372.44 C147.16,373.09 147.93,373.57 148.39,374.14 C148.84,374.72 149.16,375.72 149.73,375.89 C150.29,376.05 151.17,375.04 151.80,375.14 C152.43,375.25 153.18,375.93 153.51,376.52 C153.84,377.12 153.71,378.35 153.75,378.71"/><path d="M153.09,370.52 C152.78,370.33 151.79,369.81 151.23,369.34 C150.67,368.88 150.23,368.27 149.74,367.73 C149.24,367.19 148.33,366.69 148.26,366.10 C148.20,365.51 148.82,364.60 149.35,364.19 C149.89,363.78 150.89,364.00 151.48,363.63 C152.06,363.25 152.64,362.20 152.87,361.92"/><path d="M158.70,370.29 C159.01,370.09 159.99,369.56 160.55,369.09 C161.11,368.62 161.44,367.67 162.05,367.48 C162.65,367.28 163.71,367.52 164.20,367.93 C164.69,368.35 164.92,369.28 165.00,369.98 C165.09,370.69 165.03,371.55 164.71,372.16 C164.39,372.77 163.36,373.40 163.09,373.65"/><path d="M163.61,369.61 C163.26,369.51 162.22,369.05 161.50,369.00 C160.78,368.94 160.04,369.16 159.32,369.28 C158.60,369.41 157.56,369.30 157.17,369.74 C156.78,370.18 156.90,371.22 156.97,371.93 C157.04,372.65 157.52,373.33 157.60,374.04 C157.67,374.76 157.46,375.87 157.43,376.24"/><path d="M168.53,369.26 C168.90,369.30 170.01,369.54 170.72,369.45 C171.43,369.36 172.09,368.81 172.80,368.72 C173.51,368.63 174.27,368.77 174.99,368.89 C175.71,369.01 176.42,369.24 177.12,369.46 C177.82,369.67 178.48,370.05 179.19,370.20 C179.90,370.34 181.02,370.30 181.38,370.33"/><path d="M103.28,374.80 C103.64,374.71 105.03,374.72 105.42,374.26 C105.80,373.81 105.43,372.77 105.60,372.07 C105.76,371.36 105.97,370.56 106.41,370.03 C106.86,369.49 107.83,369.38 108.27,368.84 C108.71,368.30 108.89,367.50 109.06,366.79 C109.24,366.08 109.27,364.97 109.31,364.60"/><path d="M107.30,373.79 C107.39,374.15 107.47,375.34 107.85,375.92 C108.23,376.50 109.35,376.69 109.58,377.28 C109.81,377.87 109.40,378.74 109.25,379.46 C109.09,380.17 108.84,380.87 108.63,381.57 C108.42,382.27 108.45,383.30 107.98,383.67 C107.50,384.04 106.14,383.77 105.78,383.79"/><path d="M113.54,375.39 C113.57,375.03 114.03,373.76 113.76,373.20 C113.49,372.64 112.46,372.48 111.91,372.01 C111.35,371.55 110.69,371.03 110.41,370.40 C110.13,369.77 110.63,368.69 110.25,368.21 C109.87,367.73 108.56,368.00 108.16,367.52 C107.76,367.05 107.91,365.71 107.86,365.35"/><path d="M117.92,374.34 C118.10,374.66 118.75,375.58 119.01,376.25 C119.28,376.93 119.07,377.97 119.52,378.39 C119.96,378.82 121.23,378.39 121.67,378.81 C122.12,379.24 121.92,380.27 122.16,380.96 C122.39,381.65 122.79,382.29 123.07,382.96 C123.35,383.64 123.71,384.68 123.84,385.02"/><path d="M124.00,374.13 C123.78,374.43 123.18,375.36 122.70,375.91 C122.23,376.47 121.49,376.85 121.15,377.47 C120.81,378.08 121.00,379.00 120.66,379.61 C120.32,380.23 119.46,380.55 119.10,381.17 C118.75,381.78 118.33,382.75 118.55,383.30 C118.77,383.85 120.10,384.27 120.41,384.47"/><path d="M128.49,373.49 C128.46,373.85 128.28,374.96 128.32,375.68 C128.37,376.40 128.98,377.22 128.79,377.83 C128.59,378.44 127.81,379.04 127.17,379.33 C126.54,379.61 125.46,379.16 124.98,379.55 C124.51,379.94 124.81,381.30 124.34,381.65 C123.86,382.01 122.50,381.66 122.14,381.66"/><path d="M135.09,373.55 C135.35,373.29 136.15,372.53 136.66,372.00 C137.17,371.48 137.55,370.50 138.13,370.37 C138.72,370.24 139.47,371.18 140.16,371.22 C140.86,371.26 141.57,370.81 142.28,370.63 C143.00,370.46 143.86,369.96 144.44,370.17 C145.01,370.39 145.54,371.64 145.76,371.93"/><path d="M139.85,374.34 C140.13,374.57 141.05,375.20 141.54,375.74 C142.03,376.27 142.23,377.25 142.80,377.54 C143.38,377.82 144.28,377.36 145.00,377.45 C145.72,377.54 146.40,377.90 147.11,378.06 C147.83,378.22 148.62,378.57 149.28,378.43 C149.95,378.28 150.79,377.39 151.10,377.18"/><path d="M143.70,374.46 C144.00,374.67 145.01,375.22 145.48,375.76 C145.95,376.30 146.15,377.07 146.54,377.69 C146.92,378.31 147.25,379.06 147.81,379.48 C148.37,379.90 149.23,379.89 149.89,380.20 C150.55,380.52 151.11,381.04 151.76,381.35 C152.42,381.66 153.49,381.96 153.84,382.08"/><path d="M150.36,374.46 C150.50,374.80 151.16,375.78 151.23,376.48 C151.30,377.18 150.70,377.95 150.79,378.64 C150.89,379.32 151.27,380.23 151.81,380.59 C152.34,380.94 153.47,380.42 154.00,380.78 C154.53,381.14 154.92,382.07 154.98,382.75 C155.05,383.43 154.48,384.51 154.38,384.86"/><path d="M155.25,374.12 C155.04,374.42 154.45,375.36 153.98,375.91 C153.51,376.47 153.00,377.02 152.42,377.47 C151.85,377.92 151.22,378.35 150.54,378.62 C149.87,378.88 149.08,379.14 148.39,379.06 C147.70,378.97 147.09,378.12 146.42,378.08 C145.74,378.05 144.69,378.71 144.35,378.84"/><path d="M159.70,375.36 C160.03,375.52 161.07,376.41 161.67,376.33 C162.27,376.24 163.14,375.44 163.30,374.84 C163.45,374.24 163.02,373.32 162.62,372.75 C162.22,372.17 161.50,371.79 160.88,371.39 C160.27,371.00 159.50,370.83 158.92,370.40 C158.33,369.98 157.63,369.10 157.37,368.84"/><path d="M164.60,374.48 C164.90,374.27 165.74,373.48 166.40,373.21 C167.06,372.93 167.84,372.92 168.57,372.85 C169.30,372.78 170.05,372.68 170.77,372.79 C171.48,372.89 172.14,373.35 172.86,373.46 C173.58,373.57 174.33,373.45 175.06,373.42 C175.79,373.38 176.89,373.28 177.25,373.26"/><path d="M170.02,374.09 C170.30,373.84 171.49,373.23 171.67,372.63 C171.85,372.03 171.55,370.98 171.11,370.51 C170.67,370.03 169.53,370.25 169.02,369.81 C168.52,369.36 168.28,368.51 168.08,367.82 C167.87,367.12 167.65,366.31 167.81,365.64 C167.96,364.96 168.81,364.10 169.01,363.79"/><path d="M100.49,378.52 C100.50,378.15 100.40,377.02 100.57,376.32 C100.73,375.62 100.98,374.61 101.49,374.32 C102.01,374.04 102.96,374.69 103.67,374.62 C104.38,374.56 105.05,374.12 105.76,373.93 C106.47,373.75 107.23,373.43 107.92,373.51 C108.61,373.60 109.57,374.31 109.91,374.47"/><path d="M106.68,378.86 C106.79,379.21 107.45,380.32 107.33,380.96 C107.21,381.59 106.03,382.05 105.95,382.67 C105.87,383.29 106.33,384.32 106.84,384.68 C107.36,385.04 108.32,384.72 109.04,384.83 C109.76,384.94 110.46,385.19 111.18,385.34 C111.90,385.50 112.98,385.70 113.34,385.77"/><path d="M111.41,378.60 C111.11,378.38 110.29,377.48 109.63,377.30 C108.97,377.13 108.16,377.63 107.45,377.56 C106.73,377.49 105.96,376.75 105.35,376.90 C104.74,377.05 104.15,377.84 103.79,378.45 C103.43,379.06 103.56,379.98 103.18,380.57 C102.80,381.16 101.79,381.76 101.51,382.00"/><path d="M116.63,378.57 C116.94,378.75 118.05,379.16 118.53,379.67 C119.01,380.19 119.07,381.07 119.49,381.65 C119.92,382.24 120.46,383.01 121.08,383.18 C121.70,383.35 122.51,382.65 123.22,382.69 C123.93,382.72 124.64,383.08 125.31,383.37 C125.98,383.66 126.92,384.25 127.24,384.42"/><path d="M122.28,379.88 C122.56,379.64 123.31,378.66 123.95,378.45 C124.60,378.25 125.44,378.76 126.14,378.63 C126.84,378.51 127.59,378.17 128.15,377.73 C128.71,377.29 129.14,376.63 129.52,376.00 C129.89,375.38 129.88,374.33 130.39,373.99 C130.91,373.64 132.23,373.93 132.59,373.92"/><path d="M127.43,378.50 C127.30,378.84 126.80,379.85 126.67,380.56 C126.54,381.27 126.58,382.04 126.68,382.76 C126.78,383.48 126.98,384.22 127.27,384.88 C127.57,385.54 127.90,386.35 128.45,386.74 C129.01,387.12 129.91,386.98 130.61,387.20 C131.31,387.41 132.31,387.87 132.65,388.00"/><path d="M132.43,379.08 C132.67,378.80 133.67,378.05 133.86,377.41 C134.05,376.76 133.43,375.91 133.57,375.23 C133.70,374.55 134.14,373.67 134.69,373.34 C135.25,373.01 136.22,373.47 136.89,373.25 C137.56,373.02 138.50,372.55 138.69,371.98 C138.89,371.42 138.18,370.22 138.08,369.87"/><path d="M137.07,379.09 C137.09,378.72 137.03,377.59 137.22,376.89 C137.40,376.20 137.68,375.36 138.19,374.92 C138.70,374.48 139.89,374.71 140.28,374.23 C140.67,373.75 140.40,372.76 140.53,372.04 C140.66,371.32 140.66,370.46 141.05,369.90 C141.45,369.35 142.58,368.89 142.89,368.69"/><path d="M141.41,378.16 C141.71,377.95 142.95,377.47 143.21,376.89 C143.46,376.32 142.90,375.43 142.93,374.71 C142.97,373.99 143.58,373.20 143.43,372.57 C143.27,371.93 142.27,371.53 142.01,370.89 C141.75,370.24 141.78,369.40 141.87,368.69 C141.97,367.98 142.46,366.95 142.58,366.61"/><path d="M146.93,378.44 C146.99,378.08 146.94,376.87 147.26,376.27 C147.59,375.66 148.43,375.35 148.90,374.80 C149.37,374.25 149.83,373.61 150.08,372.94 C150.33,372.27 149.99,371.20 150.40,370.77 C150.81,370.33 151.84,370.30 152.55,370.31 C153.27,370.32 154.33,370.74 154.69,370.83"/><path d="M152.63,379.07 C152.76,378.73 152.91,377.41 153.40,377.01 C153.89,376.62 154.87,376.90 155.58,376.72 C156.29,376.54 156.97,375.90 157.63,375.94 C158.30,375.97 159.03,376.50 159.58,376.96 C160.13,377.42 160.79,378.06 160.92,378.70 C161.05,379.35 160.44,380.47 160.35,380.82"/><path d="M158.45,379.67 C158.77,379.84 159.83,380.25 160.39,380.70 C160.96,381.15 161.37,381.80 161.84,382.36 C162.30,382.93 162.91,383.46 163.17,384.11 C163.43,384.77 163.60,385.65 163.41,386.30 C163.22,386.95 162.42,387.40 162.03,388.01 C161.63,388.62 161.19,389.64 161.02,389.97"/><path d="M162.88,378.29 C163.22,378.17 164.32,377.89 164.95,377.54 C165.58,377.19 166.37,376.76 166.67,376.17 C166.97,375.57 166.98,374.61 166.74,373.97 C166.51,373.33 165.81,372.83 165.27,372.34 C164.73,371.85 164.16,371.28 163.50,371.02 C162.85,370.77 161.68,370.84 161.31,370.80"/><path d="M169.18,378.12 C169.40,378.41 170.17,379.24 170.48,379.89 C170.79,380.54 171.10,381.34 171.03,382.02 C170.95,382.70 170.07,383.32 170.03,383.99 C170.00,384.66 170.32,385.67 170.82,386.04 C171.32,386.41 172.28,386.18 173.02,386.19 C173.75,386.20 174.85,386.12 175.21,386.10"/><path d="M102.57,382.67 C102.93,382.62 104.15,382.70 104.75,382.37 C105.35,382.04 105.93,381.33 106.16,380.69 C106.40,380.04 105.98,379.16 106.19,378.49 C106.39,377.81 106.92,377.20 107.39,376.64 C107.85,376.08 108.69,375.76 109.00,375.14 C109.30,374.53 109.19,373.32 109.23,372.96"/><path d="M106.32,383.16 C106.26,383.52 105.88,384.62 105.92,385.33 C105.97,386.04 106.41,386.71 106.59,387.42 C106.76,388.13 107.14,388.93 106.98,389.59 C106.83,390.24 106.09,390.75 105.66,391.35 C105.24,391.95 104.63,392.50 104.44,393.18 C104.25,393.85 104.50,395.01 104.51,395.37"/><path d="M112.93,384.43 C112.69,384.71 112.09,385.94 111.51,386.11 C110.92,386.27 110.12,385.63 109.42,385.42 C108.72,385.20 107.98,384.76 107.30,384.82 C106.62,384.88 105.63,385.26 105.32,385.78 C105.01,386.31 105.74,387.45 105.43,387.98 C105.12,388.51 103.79,388.79 103.46,388.95"/><path d="M117.96,383.37 C117.60,383.29 116.51,382.85 115.81,382.90 C115.11,382.96 114.32,383.86 113.76,383.70 C113.19,383.55 112.71,382.62 112.39,381.97 C112.07,381.33 112.22,380.42 111.83,379.85 C111.44,379.28 110.64,378.55 110.05,378.55 C109.46,378.55 108.59,379.65 108.29,379.87"/><path d="M122.50,383.34 C122.77,383.10 123.54,382.29 124.15,381.89 C124.75,381.49 125.72,381.45 126.13,380.94 C126.55,380.42 126.78,379.44 126.64,378.80 C126.50,378.15 125.85,377.51 125.29,377.06 C124.74,376.61 124.00,376.20 123.31,376.10 C122.62,376.01 121.51,376.43 121.15,376.49"/><path d="M128.49,383.63 C128.69,383.32 129.50,382.46 129.68,381.78 C129.87,381.11 129.60,380.32 129.60,379.58 C129.61,378.85 129.98,377.99 129.72,377.39 C129.47,376.78 128.40,376.54 128.07,375.94 C127.74,375.34 128.16,374.17 127.74,373.77 C127.32,373.36 125.92,373.54 125.55,373.49"/><path d="M133.60,384.29 C133.38,384.00 132.86,382.94 132.29,382.52 C131.73,382.10 130.79,382.20 130.22,381.78 C129.65,381.37 129.45,380.29 128.86,380.06 C128.27,379.82 127.40,380.25 126.68,380.37 C125.96,380.50 125.23,380.63 124.52,380.80 C123.81,380.98 122.76,381.31 122.41,381.41"/><path d="M139.06,383.77 C139.12,383.41 139.07,382.19 139.42,381.60 C139.77,381.02 140.64,380.77 141.17,380.26 C141.69,379.76 141.99,378.78 142.58,378.58 C143.18,378.38 144.13,379.24 144.73,379.05 C145.34,378.85 145.58,377.67 146.19,377.39 C146.79,377.12 148.02,377.39 148.39,377.39"/><path d="M142.77,383.69 C142.50,383.93 141.77,384.96 141.13,385.15 C140.49,385.35 139.66,384.78 138.95,384.86 C138.24,384.94 137.47,385.22 136.89,385.63 C136.30,386.03 135.54,386.66 135.43,387.28 C135.32,387.89 135.83,388.75 136.25,389.32 C136.67,389.89 137.67,390.48 137.95,390.71"/><path d="M148.49,384.03 C148.15,384.17 146.85,384.37 146.46,384.88 C146.06,385.38 146.14,386.33 146.13,387.05 C146.12,387.78 146.27,388.51 146.40,389.24 C146.53,389.96 147.11,390.82 146.89,391.38 C146.66,391.94 145.71,392.49 145.05,392.59 C144.39,392.69 143.28,392.09 142.93,391.99"/><path d="M154.06,382.62 C153.70,382.71 152.50,382.75 151.92,383.12 C151.33,383.49 151.06,384.32 150.56,384.85 C150.07,385.39 149.45,385.82 148.94,386.34 C148.43,386.86 147.54,387.41 147.49,387.99 C147.44,388.58 148.70,389.28 148.65,389.87 C148.60,390.45 147.43,391.24 147.19,391.51"/><path d="M159.55,383.01 C159.19,382.95 158.11,382.63 157.39,382.61 C156.66,382.59 155.94,382.85 155.21,382.91 C154.48,382.98 153.69,382.78 153.01,382.99 C152.33,383.20 151.66,383.66 151.15,384.16 C150.63,384.66 150.24,385.33 149.92,385.99 C149.61,386.64 149.37,387.73 149.26,388.08"/><path d="M164.49,383.11 C164.38,383.46 163.91,384.51 163.86,385.22 C163.82,385.94 164.46,386.84 164.20,387.40 C163.95,387.96 163.00,388.24 162.35,388.58 C161.71,388.93 161.03,389.37 160.33,389.45 C159.63,389.53 158.88,389.04 158.17,389.07 C157.45,389.10 156.40,389.55 156.04,389.64"/><path d="M170.01,382.78 C170.37,382.72 171.46,382.37 172.17,382.41 C172.89,382.46 173.68,382.67 174.28,383.05 C174.88,383.42 175.15,384.40 175.76,384.68 C176.37,384.95 177.24,384.77 177.96,384.68 C178.68,384.59 179.44,384.01 180.09,384.13 C180.74,384.25 181.58,385.20 181.88,385.41"/><path d="M100.96,387.65 C101.33,387.66 102.43,387.76 103.16,387.67 C103.88,387.59 104.86,387.61 105.30,387.17 C105.74,386.73 105.36,385.47 105.79,385.02 C106.23,384.58 107.24,384.73 107.93,384.48 C108.61,384.23 109.25,383.85 109.92,383.54 C110.59,383.24 111.60,382.81 111.94,382.67"/><path d="M107.27,388.73 C107.33,388.37 107.65,387.27 107.60,386.56 C107.55,385.84 107.26,385.12 106.98,384.45 C106.69,383.78 106.43,382.78 105.89,382.54 C105.35,382.29 104.42,382.75 103.74,382.99 C103.05,383.22 102.46,383.83 101.77,383.97 C101.08,384.11 99.94,383.87 99.57,383.85"/><path d="M113.14,388.78 C113.04,388.43 113.00,387.03 112.53,386.67 C112.06,386.30 111.04,386.45 110.33,386.58 C109.63,386.71 108.90,387.04 108.31,387.44 C107.72,387.85 107.38,388.63 106.79,389.04 C106.21,389.46 105.17,389.43 104.79,389.94 C104.40,390.45 104.55,391.76 104.51,392.12"/><path d="M117.13,388.22 C117.46,388.05 118.40,387.44 119.08,387.20 C119.77,386.96 120.71,387.17 121.24,386.77 C121.77,386.38 121.76,385.29 122.27,384.83 C122.79,384.37 123.68,383.91 124.31,384.00 C124.94,384.08 125.50,384.86 126.05,385.35 C126.60,385.83 127.35,386.64 127.61,386.90"/><path d="M122.28,388.20 C122.33,388.56 122.85,389.87 122.56,390.38 C122.27,390.90 121.23,391.01 120.56,391.30 C119.89,391.59 119.22,392.06 118.52,392.14 C117.82,392.21 116.90,392.14 116.36,391.76 C115.81,391.38 115.79,390.27 115.25,389.86 C114.71,389.45 113.47,389.39 113.12,389.30"/><path d="M128.67,388.45 C129.03,388.51 130.16,388.92 130.84,388.80 C131.52,388.69 132.10,388.03 132.77,387.74 C133.44,387.45 134.16,387.12 134.86,387.08 C135.57,387.05 136.30,387.54 137.02,387.53 C137.73,387.52 138.57,386.82 139.16,387.02 C139.75,387.21 140.33,388.43 140.56,388.71"/><path d="M132.70,388.13 C132.54,388.46 131.74,389.46 131.76,390.12 C131.79,390.77 132.84,391.40 132.83,392.04 C132.82,392.67 132.11,393.32 131.70,393.92 C131.28,394.53 130.85,395.12 130.36,395.67 C129.87,396.21 129.33,396.72 128.76,397.18 C128.19,397.64 127.24,398.21 126.94,398.42"/><path d="M137.71,389.02 C137.97,389.28 138.83,389.99 139.28,390.56 C139.72,391.13 139.84,392.12 140.39,392.46 C140.94,392.79 141.99,392.28 142.59,392.59 C143.18,392.90 143.38,393.90 143.95,394.31 C144.52,394.73 145.60,394.59 146.01,395.08 C146.42,395.56 146.35,396.88 146.42,397.24"/><path d="M142.86,388.35 C142.75,388.00 142.37,386.96 142.19,386.25 C142.01,385.54 142.20,384.55 141.78,384.09 C141.36,383.63 140.24,383.28 139.67,383.47 C139.10,383.67 138.51,384.59 138.36,385.24 C138.21,385.90 139.04,386.87 138.79,387.40 C138.53,387.94 137.18,388.28 136.85,388.45"/><path d="M149.46,388.52 C149.19,388.77 148.50,389.73 147.87,390.04 C147.24,390.34 146.38,390.14 145.69,390.36 C145.00,390.57 144.40,391.08 143.71,391.32 C143.02,391.56 142.23,391.91 141.56,391.79 C140.90,391.67 140.31,390.56 139.72,390.59 C139.13,390.62 138.29,391.74 138.01,391.98"/><path d="M153.18,388.14 C153.48,388.34 154.43,388.92 154.99,389.38 C155.55,389.85 155.92,390.70 156.55,390.94 C157.17,391.17 158.01,390.82 158.74,390.79 C159.48,390.77 160.28,390.99 160.94,390.77 C161.61,390.55 162.10,389.85 162.72,389.47 C163.35,389.10 164.37,388.67 164.70,388.51"/><path d="M158.64,388.48 C158.93,388.71 159.71,389.73 160.35,389.87 C160.99,390.01 161.92,389.13 162.49,389.35 C163.05,389.56 163.42,390.50 163.76,391.14 C164.10,391.78 164.25,392.52 164.53,393.20 C164.81,393.88 165.08,394.57 165.46,395.19 C165.84,395.82 166.59,396.64 166.82,396.92"/><path d="M164.43,388.58 C164.66,388.30 165.39,387.47 165.85,386.90 C166.32,386.34 166.65,385.33 167.21,385.18 C167.78,385.03 168.80,385.51 169.25,386.00 C169.71,386.48 170.02,387.45 169.92,388.09 C169.82,388.74 169.00,389.25 168.65,389.89 C168.31,390.53 167.98,391.60 167.84,391.94"/><path d="M169.25,388.33 C169.56,388.15 170.50,387.57 171.15,387.22 C171.79,386.88 172.49,386.62 173.12,386.24 C173.74,385.86 174.25,385.00 174.88,384.93 C175.51,384.86 176.19,385.68 176.90,385.81 C177.60,385.94 178.60,386.05 179.09,385.69 C179.59,385.33 179.74,383.98 179.87,383.63"/><path d="M102.98,393.26 C102.87,392.91 102.70,391.77 102.32,391.16 C101.95,390.56 101.19,390.21 100.73,389.65 C100.26,389.09 100.10,388.06 99.54,387.79 C98.98,387.53 97.89,387.68 97.36,388.05 C96.82,388.42 96.64,389.33 96.34,390.00 C96.05,390.67 95.73,391.73 95.61,392.07"/><path d="M107.38,392.59 C107.63,392.86 108.39,393.66 108.86,394.22 C109.34,394.78 109.64,395.58 110.23,395.95 C110.81,396.32 111.66,396.45 112.37,396.43 C113.08,396.41 113.82,396.12 114.49,395.83 C115.15,395.53 115.93,395.21 116.36,394.67 C116.79,394.13 116.96,392.94 117.08,392.59"/><path d="M111.71,393.62 C112.07,393.70 113.36,393.68 113.86,394.10 C114.36,394.52 114.36,395.49 114.71,396.13 C115.06,396.77 115.82,397.28 115.96,397.94 C116.10,398.61 115.42,399.43 115.54,400.10 C115.66,400.78 116.51,401.32 116.66,402.00 C116.80,402.68 116.46,403.82 116.42,404.19"/><path d="M117.91,393.61 C117.98,393.97 117.92,395.26 118.33,395.77 C118.74,396.27 119.69,396.31 120.35,396.63 C121.01,396.94 122.00,397.14 122.29,397.68 C122.57,398.22 121.76,399.37 122.06,399.87 C122.37,400.37 123.42,400.64 124.11,400.67 C124.81,400.70 125.87,400.14 126.22,400.03"/><path d="M122.58,392.45 C122.63,392.81 123.08,393.97 122.90,394.62 C122.73,395.27 121.91,395.72 121.54,396.35 C121.17,396.97 120.83,397.67 120.67,398.37 C120.52,399.08 120.71,399.85 120.61,400.57 C120.51,401.29 119.86,402.13 120.06,402.70 C120.26,403.28 121.53,403.80 121.82,404.02"/><path d="M127.24,393.60 C127.11,393.94 126.96,395.28 126.47,395.66 C125.97,396.03 124.79,396.14 124.27,395.84 C123.76,395.53 123.71,394.48 123.39,393.82 C123.07,393.16 122.88,392.32 122.37,391.88 C121.85,391.44 120.99,391.22 120.28,391.18 C119.57,391.14 118.49,391.56 118.13,391.63"/><path d="M134.22,393.59 C134.03,393.91 133.34,394.81 133.10,395.48 C132.85,396.16 132.84,396.93 132.75,397.66 C132.67,398.39 132.34,399.22 132.57,399.85 C132.79,400.48 133.92,400.81 134.09,401.43 C134.27,402.05 134.06,403.20 133.61,403.58 C133.17,403.96 131.79,403.70 131.42,403.72"/><path d="M137.98,393.06 C137.77,393.36 136.72,394.24 136.70,394.85 C136.68,395.47 137.29,396.42 137.85,396.73 C138.41,397.04 139.38,396.52 140.05,396.73 C140.72,396.93 141.21,397.70 141.88,397.94 C142.55,398.18 143.55,397.79 144.07,398.16 C144.59,398.52 144.84,399.82 144.99,400.15"/><path d="M144.52,393.23 C144.59,393.58 145.20,394.80 144.98,395.38 C144.77,395.96 143.78,396.22 143.23,396.70 C142.68,397.18 141.82,397.65 141.68,398.26 C141.53,398.87 141.93,399.82 142.35,400.36 C142.78,400.89 143.56,401.28 144.24,401.48 C144.92,401.69 146.07,401.55 146.44,401.57"/><path d="M149.40,392.19 C149.73,392.35 150.81,392.71 151.38,393.15 C151.94,393.59 152.57,394.19 152.79,394.84 C153.00,395.49 152.57,396.32 152.65,397.04 C152.72,397.76 153.19,398.44 153.23,399.16 C153.28,399.87 153.29,400.82 152.90,401.33 C152.51,401.84 151.23,402.08 150.89,402.23"/><path d="M154.36,392.26 C153.99,392.31 152.89,392.62 152.18,392.57 C151.46,392.51 150.77,391.93 150.07,391.93 C149.37,391.93 148.68,392.48 147.96,392.56 C147.25,392.63 146.34,392.11 145.77,392.39 C145.20,392.67 145.12,394.02 144.56,394.23 C144.01,394.44 142.79,393.74 142.44,393.65"/><path d="M159.26,392.86 C159.06,393.16 158.52,394.14 158.05,394.69 C157.57,395.24 156.78,395.56 156.41,396.16 C156.03,396.76 155.77,397.58 155.80,398.27 C155.83,398.97 156.60,399.65 156.58,400.33 C156.57,401.00 155.61,401.71 155.68,402.33 C155.76,402.96 156.79,403.79 157.02,404.08"/><path d="M164.15,393.31 C164.35,393.61 165.01,394.50 165.39,395.13 C165.76,395.76 165.88,396.66 166.40,397.08 C166.92,397.51 168.06,397.24 168.51,397.69 C168.96,398.15 169.29,399.27 169.07,399.82 C168.85,400.37 167.45,400.44 167.21,400.99 C166.97,401.54 167.58,402.79 167.65,403.14"/><path d="M169.70,393.30 C169.36,393.16 168.34,392.74 167.67,392.46 C166.99,392.18 166.30,391.61 165.63,391.62 C164.96,391.64 164.33,392.30 163.64,392.56 C162.96,392.82 162.25,393.12 161.54,393.20 C160.82,393.28 160.06,392.95 159.35,393.02 C158.63,393.09 157.59,393.53 157.23,393.64"/><path d="M102.54,397.43 C102.32,397.14 101.51,396.32 101.23,395.67 C100.96,395.01 100.98,394.22 100.88,393.49 C100.79,392.77 100.37,391.85 100.65,391.31 C100.94,390.76 102.18,390.78 102.58,390.25 C102.98,389.71 102.69,388.67 103.07,388.10 C103.44,387.53 104.56,387.03 104.85,386.82"/><path d="M106.51,397.62 C106.59,397.97 107.12,399.07 107.04,399.75 C106.97,400.43 106.57,401.26 106.06,401.72 C105.55,402.18 104.69,402.51 104.00,402.50 C103.32,402.49 102.66,401.69 101.97,401.65 C101.28,401.62 100.56,402.07 99.87,402.29 C99.17,402.51 98.13,402.87 97.78,402.98"/><path d="M111.82,397.56 C111.69,397.90 111.39,398.98 111.05,399.62 C110.71,400.27 110.34,400.98 109.79,401.43 C109.25,401.87 108.47,402.07 107.77,402.29 C107.08,402.52 106.25,402.94 105.62,402.77 C105.00,402.59 104.65,401.48 104.02,401.26 C103.39,401.04 102.19,401.40 101.82,401.43"/><path d="M116.88,396.44 C116.52,396.51 115.42,396.67 114.72,396.86 C114.02,397.06 113.20,397.18 112.65,397.61 C112.10,398.03 111.96,399.04 111.39,399.41 C110.82,399.78 109.69,399.40 109.23,399.82 C108.77,400.24 109.09,401.50 108.64,401.94 C108.18,402.38 106.86,402.37 106.50,402.46"/><path d="M122.91,397.49 C122.76,397.15 122.52,395.90 122.02,395.48 C121.51,395.06 120.59,394.96 119.87,394.97 C119.16,394.98 118.15,395.08 117.75,395.54 C117.35,396.00 117.40,397.02 117.48,397.72 C117.57,398.43 118.12,399.07 118.26,399.78 C118.41,400.49 118.35,401.61 118.37,401.98"/><path d="M128.03,396.93 C127.71,397.11 126.78,397.94 126.11,398.01 C125.44,398.07 124.68,397.24 124.02,397.31 C123.36,397.39 122.58,397.91 122.13,398.43 C121.67,398.96 121.24,399.80 121.27,400.46 C121.30,401.12 122.13,401.71 122.29,402.41 C122.46,403.10 122.27,404.24 122.27,404.61"/><path d="M133.84,397.97 C134.20,398.03 135.29,398.32 136.01,398.31 C136.73,398.29 137.59,398.24 138.17,397.87 C138.74,397.50 138.90,396.29 139.47,396.09 C140.04,395.90 141.00,396.90 141.58,396.71 C142.16,396.53 142.49,395.56 142.94,394.98 C143.38,394.40 144.03,393.51 144.25,393.21"/><path d="M138.90,398.37 C139.15,398.63 140.13,399.31 140.44,399.94 C140.75,400.56 140.34,401.67 140.75,402.12 C141.16,402.56 142.21,402.69 142.89,402.62 C143.58,402.55 144.24,401.64 144.88,401.68 C145.52,401.72 146.08,402.80 146.73,402.87 C147.38,402.93 148.45,402.22 148.79,402.09"/><path d="M143.36,397.00 C143.36,397.36 143.03,398.70 143.37,399.20 C143.72,399.69 145.12,399.47 145.43,399.96 C145.75,400.45 145.55,401.52 145.27,402.15 C144.99,402.79 144.37,403.41 143.76,403.75 C143.15,404.09 142.19,403.83 141.60,404.20 C141.02,404.56 140.47,405.64 140.25,405.93"/><path d="M148.28,397.50 C148.34,397.87 148.86,399.11 148.61,399.68 C148.37,400.25 147.31,400.41 146.80,400.92 C146.28,401.42 145.81,402.05 145.52,402.71 C145.24,403.37 145.53,404.46 145.10,404.87 C144.66,405.27 143.64,405.16 142.91,405.14 C142.19,405.13 141.10,404.84 140.74,404.78"/><path d="M153.05,397.21 C152.70,397.28 151.56,397.37 150.90,397.66 C150.24,397.94 149.77,398.67 149.10,398.93 C148.44,399.18 147.53,399.40 146.92,399.16 C146.31,398.93 145.87,398.12 145.45,397.53 C145.03,396.93 144.40,396.23 144.40,395.59 C144.40,394.95 145.29,393.99 145.47,393.67"/><path d="M159.10,397.19 C159.20,396.83 159.29,395.62 159.70,395.07 C160.11,394.52 161.15,394.44 161.56,393.89 C161.96,393.34 162.09,392.49 162.14,391.77 C162.19,391.05 162.20,390.17 161.85,389.59 C161.51,389.01 160.63,388.78 160.06,388.31 C159.49,387.85 158.72,387.07 158.45,386.82"/><path d="M163.70,396.81 C163.81,397.16 163.99,398.30 164.37,398.90 C164.74,399.51 165.39,399.96 165.95,400.43 C166.51,400.90 167.56,401.16 167.73,401.72 C167.91,402.28 167.39,403.20 167.00,403.80 C166.61,404.40 166.04,405.13 165.41,405.32 C164.79,405.51 163.61,404.99 163.25,404.93"/><path d="M168.98,397.17 C169.20,397.47 169.74,398.46 170.25,398.96 C170.77,399.47 171.40,399.99 172.07,400.20 C172.74,400.41 173.79,400.57 174.27,400.23 C174.76,399.88 175.04,398.82 174.99,398.15 C174.93,397.48 174.44,396.70 173.94,396.21 C173.44,395.73 172.30,395.40 171.97,395.24"/><path d="M102.03,402.43 C102.11,402.79 102.14,404.06 102.56,404.57 C102.98,405.07 104.22,404.96 104.56,405.47 C104.90,405.99 104.45,406.97 104.58,407.67 C104.72,408.38 105.37,409.03 105.39,409.72 C105.41,410.41 105.10,411.24 104.70,411.81 C104.30,412.39 103.27,412.96 102.98,413.18"/><path d="M107.19,401.04 C107.14,401.40 106.62,402.63 106.86,403.22 C107.10,403.80 108.35,403.94 108.62,404.53 C108.90,405.11 108.37,406.02 108.49,406.72 C108.60,407.43 109.30,408.07 109.33,408.76 C109.35,409.45 108.89,410.16 108.65,410.85 C108.41,411.54 108.00,412.57 107.87,412.91"/><path d="M110.69,401.79 C111.04,401.90 112.14,402.54 112.79,402.45 C113.44,402.35 113.95,401.53 114.60,401.20 C115.24,400.86 116.32,400.92 116.66,400.43 C117.00,399.93 116.83,398.92 116.65,398.23 C116.48,397.54 116.02,396.89 115.62,396.29 C115.21,395.68 114.45,394.87 114.22,394.59"/><path d="M116.87,401.27 C116.58,401.04 115.55,400.48 115.15,399.90 C114.75,399.32 114.55,398.51 114.48,397.80 C114.41,397.09 114.97,396.24 114.75,395.62 C114.53,395.00 113.81,394.34 113.18,394.08 C112.55,393.82 111.66,393.87 110.98,394.06 C110.30,394.25 109.43,395.04 109.12,395.23"/><path d="M122.40,401.81 C122.05,401.72 120.95,401.21 120.27,401.29 C119.58,401.37 118.83,401.82 118.31,402.29 C117.79,402.77 117.40,403.49 117.15,404.16 C116.90,404.84 116.66,405.67 116.81,406.34 C116.96,407.01 117.47,407.94 118.03,408.17 C118.59,408.40 119.82,407.79 120.18,407.71"/><path d="M126.23,402.26 C126.10,401.92 125.31,400.77 125.47,400.20 C125.62,399.62 126.75,399.38 127.17,398.80 C127.58,398.22 127.54,397.34 127.94,396.74 C128.33,396.14 128.90,395.35 129.52,395.21 C130.13,395.07 130.92,395.93 131.60,395.90 C132.29,395.87 133.28,395.16 133.62,395.01"/><path d="M132.76,402.33 C133.04,402.56 133.82,403.49 134.47,403.71 C135.13,403.93 135.96,403.56 136.67,403.68 C137.39,403.79 138.14,404.52 138.75,404.39 C139.37,404.27 139.89,403.45 140.39,402.92 C140.88,402.38 141.36,401.80 141.71,401.16 C142.06,400.53 142.37,399.45 142.50,399.11"/><path d="M136.70,401.77 C136.53,402.09 135.81,403.02 135.68,403.71 C135.54,404.40 135.53,405.34 135.87,405.91 C136.21,406.48 137.04,406.81 137.69,407.14 C138.34,407.47 139.07,407.65 139.77,407.87 C140.47,408.10 141.23,408.58 141.88,408.47 C142.54,408.37 143.41,407.45 143.71,407.25"/><path d="M143.11,401.48 C143.47,401.54 144.55,401.81 145.28,401.86 C146.00,401.91 146.89,402.10 147.48,401.80 C148.06,401.49 148.29,400.56 148.78,400.02 C149.27,399.49 149.80,398.89 150.43,398.57 C151.07,398.26 151.86,398.23 152.59,398.14 C153.31,398.04 154.42,398.03 154.78,398.01"/><path d="M148.38,401.05 C148.19,401.36 147.24,402.32 147.26,402.94 C147.28,403.56 148.02,404.21 148.50,404.75 C148.98,405.30 149.55,406.12 150.15,406.21 C150.76,406.29 151.48,405.59 152.15,405.27 C152.81,404.96 153.44,404.56 154.13,404.32 C154.82,404.08 155.92,403.91 156.27,403.83"/><path d="M153.12,401.65 C153.46,401.78 154.47,402.30 155.18,402.41 C155.89,402.52 156.81,402.03 157.38,402.31 C157.95,402.60 158.26,403.50 158.61,404.13 C158.97,404.77 159.05,405.62 159.52,406.14 C159.99,406.66 160.90,406.76 161.43,407.24 C161.95,407.73 162.47,408.75 162.68,409.05"/><path d="M157.75,401.94 C157.87,401.59 158.36,400.57 158.48,399.86 C158.59,399.15 158.37,398.39 158.43,397.66 C158.48,396.93 158.39,395.95 158.81,395.50 C159.23,395.05 160.26,394.89 160.95,394.96 C161.63,395.04 162.33,395.52 162.92,395.94 C163.50,396.37 164.20,397.25 164.46,397.51"/><path d="M163.82,401.82 C163.66,402.15 163.36,403.37 162.85,403.79 C162.33,404.22 161.35,404.50 160.72,404.35 C160.09,404.20 159.69,403.28 159.08,402.88 C158.47,402.48 157.44,402.49 157.08,401.97 C156.71,401.46 157.28,400.25 156.90,399.78 C156.52,399.31 155.14,399.26 154.79,399.15"/><path d="M168.05,402.01 C168.05,402.38 168.39,403.73 168.04,404.21 C167.69,404.70 166.42,404.45 165.95,404.92 C165.49,405.38 165.19,406.32 165.23,407.00 C165.27,407.67 165.71,408.49 166.22,408.96 C166.72,409.43 167.67,409.40 168.24,409.82 C168.82,410.24 169.43,411.22 169.66,411.50"/></g><g stroke="#ab9a84" stroke-width="0.65"><path d="M101.48,356.85 C101.12,356.92 100.04,357.22 99.32,357.28 C98.59,357.34 97.74,356.96 97.12,357.21 C96.49,357.45 96.09,358.25 95.57,358.77 C95.04,359.28 94.57,359.88 93.97,360.28 C93.37,360.68 92.64,361.15 91.96,361.17 C91.28,361.20 90.23,360.56 89.89,360.43"/><path d="M105.75,355.61 C105.82,355.97 106.21,357.06 106.17,357.76 C106.13,358.47 105.34,359.28 105.51,359.86 C105.68,360.44 107.06,360.68 107.21,361.26 C107.36,361.83 106.92,362.97 106.42,363.31 C105.92,363.65 104.92,363.44 104.22,363.29 C103.51,363.14 102.53,362.57 102.20,362.42"/><path d="M111.99,355.31 C112.35,355.38 113.59,355.93 114.16,355.68 C114.72,355.44 115.26,354.52 115.39,353.86 C115.52,353.20 115.29,352.30 114.93,351.71 C114.57,351.12 113.82,350.36 113.23,350.31 C112.63,350.27 111.94,351.03 111.33,351.43 C110.72,351.83 109.85,352.51 109.55,352.72"/><path d="M116.84,356.68 C116.51,356.51 115.54,356.00 114.89,355.66 C114.24,355.32 113.50,355.09 112.94,354.64 C112.39,354.18 112.07,353.45 111.59,352.90 C111.11,352.35 110.66,351.67 110.05,351.33 C109.43,350.99 108.28,351.30 107.90,350.85 C107.52,350.41 107.80,349.02 107.77,348.66"/><path d="M123.15,356.68 C122.90,356.41 122.27,355.38 121.66,355.06 C121.04,354.75 120.17,354.69 119.47,354.79 C118.78,354.90 117.81,355.19 117.47,355.70 C117.13,356.22 117.66,357.26 117.41,357.90 C117.16,358.55 116.36,358.95 115.96,359.56 C115.55,360.16 115.14,361.20 114.98,361.53"/><path d="M128.05,355.77 C128.34,355.99 129.23,357.09 129.82,357.09 C130.40,357.08 131.21,356.33 131.55,355.74 C131.90,355.15 131.50,354.05 131.90,353.57 C132.30,353.08 133.29,353.09 133.97,352.82 C134.65,352.54 135.39,351.79 135.97,351.91 C136.55,352.03 137.22,353.25 137.47,353.52"/><path d="M132.35,355.15 C132.34,354.78 132.51,353.61 132.28,352.95 C132.05,352.28 131.56,351.42 130.98,351.17 C130.40,350.93 129.47,351.22 128.80,351.47 C128.13,351.71 127.55,352.67 126.95,352.65 C126.34,352.63 125.57,351.92 125.18,351.35 C124.79,350.77 124.70,349.58 124.61,349.22"/><path d="M136.99,355.49 C137.31,355.31 138.24,354.50 138.91,354.42 C139.59,354.34 140.38,355.10 141.04,354.99 C141.70,354.89 142.24,354.14 142.88,353.79 C143.53,353.45 144.25,353.24 144.89,352.90 C145.54,352.55 146.37,352.28 146.76,351.73 C147.15,351.18 147.14,349.94 147.22,349.58"/><path d="M143.42,355.26 C143.06,355.30 141.95,355.33 141.23,355.47 C140.52,355.61 139.66,355.69 139.13,356.12 C138.60,356.54 138.18,357.34 138.03,358.02 C137.87,358.71 138.50,359.70 138.19,360.22 C137.88,360.73 136.86,361.10 136.18,361.12 C135.51,361.13 134.47,360.46 134.13,360.32"/><path d="M147.77,356.77 C147.95,357.09 148.82,358.02 148.86,358.68 C148.90,359.33 148.40,360.10 148.01,360.70 C147.61,361.31 146.63,361.67 146.48,362.29 C146.32,362.90 147.28,363.85 147.07,364.41 C146.85,364.96 145.61,365.04 145.21,365.59 C144.81,366.14 144.75,367.36 144.66,367.72"/><path d="M152.87,356.55 C152.89,356.91 152.60,358.23 152.95,358.74 C153.29,359.26 154.32,359.72 154.95,359.66 C155.58,359.59 156.09,358.72 156.72,358.35 C157.35,357.98 158.22,357.92 158.72,357.45 C159.23,356.97 159.32,356.09 159.74,355.50 C160.16,354.90 160.98,354.15 161.23,353.88"/><path d="M158.30,355.91 C158.65,355.80 159.69,355.40 160.40,355.26 C161.12,355.11 161.98,354.79 162.59,355.03 C163.20,355.26 163.44,356.39 164.05,356.68 C164.66,356.96 165.64,357.00 166.25,356.73 C166.85,356.45 167.06,355.25 167.65,355.04 C168.25,354.82 169.46,355.38 169.82,355.44"/><path d="M164.39,355.50 C164.30,355.85 164.31,357.21 163.86,357.63 C163.41,358.06 162.26,357.66 161.70,358.03 C161.13,358.40 161.02,359.62 160.45,359.85 C159.89,360.08 158.79,359.82 158.30,359.41 C157.80,359.00 157.66,358.07 157.49,357.36 C157.31,356.66 157.29,355.54 157.25,355.18"/><path d="M168.80,355.21 C168.85,355.57 168.76,356.77 169.07,357.39 C169.38,358.01 170.30,358.31 170.66,358.92 C171.02,359.52 170.87,360.45 171.25,361.03 C171.64,361.61 172.67,361.80 172.98,362.39 C173.29,362.99 173.17,363.86 173.12,364.59 C173.08,365.32 172.78,366.39 172.71,366.75"/><path d="M100.23,361.04 C100.58,360.94 101.63,360.59 102.35,360.45 C103.07,360.30 103.91,359.96 104.53,360.18 C105.15,360.40 105.65,361.17 106.07,361.76 C106.50,362.34 106.60,363.20 107.08,363.71 C107.57,364.22 108.68,364.26 108.99,364.81 C109.29,365.36 108.92,366.64 108.91,367.01"/><path d="M105.49,359.63 C105.50,360.00 105.19,361.32 105.53,361.83 C105.88,362.34 106.88,362.71 107.55,362.70 C108.22,362.70 108.95,362.19 109.55,361.78 C110.14,361.37 110.55,360.70 111.12,360.24 C111.69,359.78 112.64,359.59 112.95,359.02 C113.27,358.45 113.00,357.19 113.01,356.82"/><path d="M111.00,361.38 C111.36,361.49 112.50,361.64 113.12,362.00 C113.73,362.36 114.22,362.99 114.68,363.55 C115.13,364.12 115.30,365.07 115.86,365.41 C116.42,365.74 117.54,365.86 118.06,365.55 C118.57,365.25 119.09,364.14 118.97,363.55 C118.85,362.97 117.62,362.31 117.36,362.06"/><path d="M117.30,361.00 C117.33,360.64 117.31,359.51 117.50,358.81 C117.70,358.12 118.15,357.50 118.45,356.83 C118.75,356.16 118.86,355.34 119.31,354.80 C119.76,354.26 120.67,354.13 121.16,353.61 C121.65,353.10 121.73,351.93 122.27,351.71 C122.81,351.49 124.04,352.17 124.40,352.27"/><path d="M120.83,360.69 C121.13,360.48 121.96,359.64 122.63,359.43 C123.30,359.22 124.15,359.25 124.83,359.44 C125.51,359.63 126.31,360.02 126.73,360.56 C127.14,361.10 127.49,362.07 127.32,362.68 C127.16,363.28 126.15,363.61 125.74,364.20 C125.32,364.79 124.99,365.88 124.84,366.21"/><path d="M127.25,361.40 C127.44,361.09 127.85,359.93 128.39,359.52 C128.94,359.11 129.87,358.80 130.51,358.93 C131.15,359.07 131.71,359.80 132.23,360.31 C132.75,360.82 133.28,361.36 133.66,361.98 C134.03,362.60 134.11,363.40 134.48,364.02 C134.85,364.65 135.64,365.44 135.87,365.73"/><path d="M132.25,360.82 C132.48,361.10 133.63,361.91 133.67,362.49 C133.71,363.08 133.04,364.03 132.47,364.34 C131.90,364.65 130.94,364.55 130.27,364.35 C129.60,364.15 129.09,363.44 128.44,363.13 C127.78,362.82 126.91,362.88 126.33,362.48 C125.76,362.08 125.21,361.03 124.98,360.74"/><path d="M137.44,360.48 C137.26,360.16 136.48,359.26 136.34,358.58 C136.20,357.90 136.89,356.93 136.61,356.40 C136.33,355.87 135.25,355.81 134.65,355.40 C134.05,354.98 133.57,354.40 133.02,353.92 C132.46,353.44 131.96,352.75 131.31,352.53 C130.66,352.30 129.48,352.56 129.11,352.56"/><path d="M142.88,360.59 C142.96,360.24 143.46,359.15 143.40,358.46 C143.35,357.76 143.07,356.73 142.56,356.43 C142.06,356.12 141.04,356.39 140.37,356.63 C139.71,356.87 139.23,357.63 138.57,357.89 C137.90,358.15 136.98,357.87 136.39,358.21 C135.81,358.56 135.28,359.67 135.06,359.96"/><path d="M147.02,361.41 C146.78,361.13 145.71,360.38 145.57,359.75 C145.44,359.13 146.17,358.36 146.23,357.65 C146.28,356.94 145.86,356.19 145.90,355.48 C145.95,354.76 146.59,354.04 146.52,353.36 C146.45,352.69 145.87,352.04 145.46,351.43 C145.06,350.83 144.31,350.01 144.08,349.72"/><path d="M153.49,361.43 C153.67,361.11 154.15,360.11 154.58,359.52 C155.01,358.93 155.72,358.51 156.06,357.88 C156.39,357.26 156.75,356.39 156.61,355.76 C156.47,355.12 155.68,354.62 155.22,354.06 C154.75,353.49 153.97,353.01 153.80,352.37 C153.63,351.73 154.13,350.57 154.19,350.21"/><path d="M158.78,361.02 C159.01,360.74 159.99,359.95 160.15,359.31 C160.32,358.66 159.93,357.85 159.75,357.14 C159.57,356.43 159.48,355.63 159.08,355.05 C158.68,354.47 158.01,353.88 157.36,353.68 C156.71,353.47 155.88,353.70 155.16,353.83 C154.45,353.96 153.41,354.36 153.06,354.47"/><path d="M163.53,360.59 C163.18,360.69 161.97,361.39 161.42,361.19 C160.86,360.99 160.63,359.95 160.18,359.37 C159.73,358.79 159.33,357.90 158.73,357.72 C158.14,357.53 156.99,357.81 156.60,358.27 C156.21,358.73 156.74,359.92 156.39,360.46 C156.03,361.00 154.78,361.34 154.46,361.52"/><path d="M167.56,361.02 C167.20,361.04 166.01,361.35 165.37,361.13 C164.72,360.92 164.28,359.76 163.69,359.71 C163.10,359.66 162.15,360.29 161.81,360.85 C161.47,361.41 161.65,362.31 161.64,363.04 C161.62,363.77 161.36,364.77 161.72,365.24 C162.09,365.71 163.48,365.78 163.83,365.88"/><path d="M101.96,364.48 C102.26,364.70 103.12,365.39 103.74,365.78 C104.36,366.17 105.11,366.37 105.68,366.82 C106.25,367.26 106.80,367.82 107.17,368.44 C107.53,369.06 107.94,369.84 107.89,370.52 C107.85,371.19 107.44,372.19 106.92,372.49 C106.39,372.78 105.09,372.34 104.72,372.31"/><path d="M108.06,364.60 C107.86,364.91 106.82,365.85 106.85,366.44 C106.89,367.03 107.77,367.59 108.26,368.13 C108.75,368.68 109.45,369.10 109.78,369.72 C110.11,370.34 109.85,371.33 110.24,371.87 C110.63,372.42 111.46,372.82 112.14,372.98 C112.82,373.14 113.97,372.86 114.33,372.84"/><path d="M112.58,365.59 C112.25,365.44 111.08,365.16 110.58,364.69 C110.07,364.21 109.98,363.33 109.56,362.73 C109.14,362.14 108.31,361.77 108.05,361.13 C107.80,360.50 107.74,359.48 108.06,358.93 C108.38,358.39 109.67,358.40 109.98,357.86 C110.30,357.31 109.96,356.02 109.95,355.66"/><path d="M118.95,365.64 C119.24,365.88 120.17,366.51 120.64,367.05 C121.12,367.60 121.78,368.30 121.79,368.93 C121.80,369.56 120.96,370.17 120.70,370.84 C120.45,371.52 120.48,372.30 120.27,373.00 C120.07,373.70 119.96,374.63 119.47,375.05 C118.97,375.47 117.67,375.43 117.31,375.50"/><path d="M123.88,366.09 C123.52,366.03 122.38,365.58 121.71,365.73 C121.05,365.87 120.57,366.76 119.90,366.97 C119.23,367.19 118.32,367.28 117.70,367.03 C117.08,366.77 116.57,366.05 116.17,365.44 C115.77,364.84 115.40,364.12 115.32,363.42 C115.23,362.72 115.62,361.61 115.68,361.25"/><path d="M127.92,366.00 C128.08,366.33 128.59,367.31 128.88,367.98 C129.17,368.65 129.66,369.36 129.64,370.04 C129.63,370.72 128.91,371.36 128.79,372.07 C128.67,372.77 129.22,373.70 128.93,374.26 C128.65,374.83 127.74,375.38 127.08,375.45 C126.43,375.52 125.36,374.82 125.02,374.69"/><path d="M133.39,364.37 C133.03,364.45 131.93,364.96 131.25,364.89 C130.56,364.82 129.94,364.23 129.27,363.92 C128.61,363.61 127.86,362.90 127.27,363.01 C126.68,363.13 126.36,364.33 125.74,364.59 C125.12,364.86 124.06,364.26 123.54,364.59 C123.02,364.92 122.76,366.25 122.60,366.58"/><path d="M139.49,364.55 C139.14,364.65 137.86,364.72 137.38,365.17 C136.90,365.62 136.56,366.58 136.63,367.24 C136.70,367.89 137.43,368.47 137.81,369.10 C138.19,369.72 138.74,370.32 138.91,371.00 C139.07,371.69 139.10,372.62 138.78,373.20 C138.46,373.78 137.29,374.28 137.00,374.49"/><path d="M144.47,366.09 C144.31,365.76 144.04,364.46 143.51,364.11 C142.99,363.76 141.97,363.80 141.31,364.01 C140.66,364.23 140.19,364.95 139.60,365.39 C139.02,365.83 138.25,366.11 137.80,366.65 C137.35,367.20 137.37,368.14 136.91,368.67 C136.45,369.20 135.36,369.64 135.05,369.84"/><path d="M149.57,365.25 C149.82,364.98 150.72,364.25 151.06,363.63 C151.40,363.00 151.54,362.22 151.61,361.50 C151.68,360.78 151.24,359.91 151.49,359.30 C151.75,358.69 152.51,357.97 153.13,357.84 C153.76,357.71 154.55,358.56 155.23,358.52 C155.91,358.47 156.88,357.73 157.21,357.57"/><path d="M155.19,366.14 C154.85,366.01 153.80,365.37 153.12,365.40 C152.44,365.43 151.80,366.05 151.12,366.33 C150.45,366.60 149.74,366.82 149.05,367.07 C148.36,367.31 147.68,367.64 146.97,367.79 C146.26,367.93 145.24,367.54 144.78,367.92 C144.31,368.29 144.26,369.68 144.16,370.03"/><path d="M160.63,365.23 C160.27,365.17 159.17,365.06 158.46,364.89 C157.75,364.71 157.07,364.41 156.37,364.19 C155.67,363.97 154.87,363.91 154.27,363.54 C153.66,363.17 153.33,362.12 152.72,361.97 C152.12,361.83 151.35,362.49 150.65,362.69 C149.94,362.90 148.86,363.12 148.51,363.20"/><path d="M164.72,366.11 C164.89,365.79 165.43,364.83 165.75,364.17 C166.07,363.51 166.69,362.81 166.65,362.16 C166.61,361.52 165.93,360.88 165.50,360.29 C165.06,359.70 164.25,359.28 164.04,358.64 C163.84,358.00 163.89,356.97 164.26,356.45 C164.63,355.93 165.92,355.68 166.26,355.53"/><path d="M170.04,364.83 C170.06,365.20 170.47,366.48 170.18,367.03 C169.88,367.58 168.62,367.59 168.27,368.14 C167.93,368.69 168.39,369.71 168.10,370.33 C167.80,370.95 166.62,371.26 166.51,371.85 C166.40,372.44 166.93,373.39 167.43,373.85 C167.93,374.30 169.16,374.46 169.50,374.58"/><path d="M101.06,369.44 C100.75,369.65 99.52,370.11 99.24,370.68 C98.95,371.25 99.53,372.20 99.36,372.88 C99.18,373.56 98.25,374.11 98.21,374.76 C98.18,375.40 98.84,376.08 99.14,376.75 C99.44,377.42 99.55,378.26 100.01,378.77 C100.47,379.29 101.61,379.68 101.92,379.86"/><path d="M105.28,369.86 C105.00,370.10 104.11,370.77 103.62,371.31 C103.13,371.85 102.79,372.52 102.34,373.10 C101.88,373.67 101.09,374.14 100.92,374.78 C100.75,375.42 100.95,376.37 101.32,376.94 C101.68,377.51 102.60,377.70 103.11,378.22 C103.62,378.73 104.16,379.72 104.37,380.02"/><path d="M111.36,369.86 C111.65,369.64 112.47,368.66 113.12,368.54 C113.76,368.42 114.54,369.20 115.23,369.15 C115.92,369.11 116.55,368.34 117.25,368.27 C117.94,368.20 118.85,368.35 119.40,368.74 C119.95,369.13 120.53,369.98 120.54,370.62 C120.56,371.25 119.67,372.23 119.49,372.55"/><path d="M115.91,369.43 C116.04,369.09 116.18,367.68 116.67,367.37 C117.17,367.05 118.33,367.18 118.87,367.54 C119.40,367.89 119.36,369.11 119.89,369.48 C120.43,369.85 121.40,369.92 122.07,369.77 C122.75,369.63 123.28,368.81 123.96,368.64 C124.64,368.46 125.79,368.72 126.15,368.73"/><path d="M121.00,368.99 C121.11,368.65 121.24,367.43 121.68,366.90 C122.11,366.37 123.25,366.38 123.60,365.84 C123.96,365.30 123.83,364.37 123.81,363.65 C123.79,362.92 123.40,362.18 123.46,361.47 C123.52,360.76 124.34,359.95 124.16,359.39 C123.98,358.82 122.69,358.29 122.39,358.07"/><path d="M126.08,370.16 C126.37,370.39 127.19,371.41 127.82,371.52 C128.46,371.62 129.20,371.02 129.90,370.78 C130.59,370.54 131.29,370.07 131.98,370.08 C132.67,370.09 133.36,370.58 134.05,370.83 C134.74,371.08 135.52,371.19 136.11,371.59 C136.70,371.99 137.34,372.96 137.59,373.23"/><path d="M131.26,368.94 C131.58,368.75 132.50,368.15 133.15,367.82 C133.80,367.49 134.50,367.23 135.18,366.96 C135.86,366.69 136.53,366.38 137.23,366.18 C137.94,365.98 138.87,366.17 139.40,365.78 C139.92,365.38 140.35,364.48 140.39,363.81 C140.43,363.14 139.76,362.09 139.63,361.75"/><path d="M136.49,370.48 C136.67,370.80 137.04,372.07 137.59,372.39 C138.14,372.70 139.27,372.71 139.79,372.38 C140.31,372.05 140.18,370.70 140.70,370.38 C141.22,370.06 142.17,370.46 142.90,370.45 C143.63,370.44 144.43,370.11 145.09,370.30 C145.76,370.49 146.59,371.37 146.88,371.58"/><path d="M141.94,369.73 C141.57,369.77 140.47,369.96 139.74,369.92 C139.02,369.89 138.11,369.28 137.58,369.54 C137.05,369.80 137.04,370.96 136.56,371.49 C136.08,372.01 135.36,372.59 134.70,372.67 C134.04,372.74 133.29,371.90 132.62,371.95 C131.95,372.01 131.01,372.83 130.69,373.01"/><path d="M147.39,370.28 C147.32,370.64 146.82,371.80 146.99,372.44 C147.16,373.09 147.93,373.57 148.39,374.14 C148.84,374.72 149.16,375.72 149.73,375.89 C150.29,376.05 151.17,375.04 151.80,375.14 C152.43,375.25 153.18,375.93 153.51,376.52 C153.84,377.12 153.71,378.35 153.75,378.71"/><path d="M153.09,370.52 C152.78,370.33 151.79,369.81 151.23,369.34 C150.67,368.88 150.23,368.27 149.74,367.73 C149.24,367.19 148.33,366.69 148.26,366.10 C148.20,365.51 148.82,364.60 149.35,364.19 C149.89,363.78 150.89,364.00 151.48,363.63 C152.06,363.25 152.64,362.20 152.87,361.92"/><path d="M158.70,370.29 C159.01,370.09 159.99,369.56 160.55,369.09 C161.11,368.62 161.44,367.67 162.05,367.48 C162.65,367.28 163.71,367.52 164.20,367.93 C164.69,368.35 164.92,369.28 165.00,369.98 C165.09,370.69 165.03,371.55 164.71,372.16 C164.39,372.77 163.36,373.40 163.09,373.65"/><path d="M163.61,369.61 C163.26,369.51 162.22,369.05 161.50,369.00 C160.78,368.94 160.04,369.16 159.32,369.28 C158.60,369.41 157.56,369.30 157.17,369.74 C156.78,370.18 156.90,371.22 156.97,371.93 C157.04,372.65 157.52,373.33 157.60,374.04 C157.67,374.76 157.46,375.87 157.43,376.24"/><path d="M168.53,369.26 C168.90,369.30 170.01,369.54 170.72,369.45 C171.43,369.36 172.09,368.81 172.80,368.72 C173.51,368.63 174.27,368.77 174.99,368.89 C175.71,369.01 176.42,369.24 177.12,369.46 C177.82,369.67 178.48,370.05 179.19,370.20 C179.90,370.34 181.02,370.30 181.38,370.33"/><path d="M103.28,374.80 C103.64,374.71 105.03,374.72 105.42,374.26 C105.80,373.81 105.43,372.77 105.60,372.07 C105.76,371.36 105.97,370.56 106.41,370.03 C106.86,369.49 107.83,369.38 108.27,368.84 C108.71,368.30 108.89,367.50 109.06,366.79 C109.24,366.08 109.27,364.97 109.31,364.60"/><path d="M107.30,373.79 C107.39,374.15 107.47,375.34 107.85,375.92 C108.23,376.50 109.35,376.69 109.58,377.28 C109.81,377.87 109.40,378.74 109.25,379.46 C109.09,380.17 108.84,380.87 108.63,381.57 C108.42,382.27 108.45,383.30 107.98,383.67 C107.50,384.04 106.14,383.77 105.78,383.79"/><path d="M113.54,375.39 C113.57,375.03 114.03,373.76 113.76,373.20 C113.49,372.64 112.46,372.48 111.91,372.01 C111.35,371.55 110.69,371.03 110.41,370.40 C110.13,369.77 110.63,368.69 110.25,368.21 C109.87,367.73 108.56,368.00 108.16,367.52 C107.76,367.05 107.91,365.71 107.86,365.35"/><path d="M117.92,374.34 C118.10,374.66 118.75,375.58 119.01,376.25 C119.28,376.93 119.07,377.97 119.52,378.39 C119.96,378.82 121.23,378.39 121.67,378.81 C122.12,379.24 121.92,380.27 122.16,380.96 C122.39,381.65 122.79,382.29 123.07,382.96 C123.35,383.64 123.71,384.68 123.84,385.02"/><path d="M124.00,374.13 C123.78,374.43 123.18,375.36 122.70,375.91 C122.23,376.47 121.49,376.85 121.15,377.47 C120.81,378.08 121.00,379.00 120.66,379.61 C120.32,380.23 119.46,380.55 119.10,381.17 C118.75,381.78 118.33,382.75 118.55,383.30 C118.77,383.85 120.10,384.27 120.41,384.47"/><path d="M128.49,373.49 C128.46,373.85 128.28,374.96 128.32,375.68 C128.37,376.40 128.98,377.22 128.79,377.83 C128.59,378.44 127.81,379.04 127.17,379.33 C126.54,379.61 125.46,379.16 124.98,379.55 C124.51,379.94 124.81,381.30 124.34,381.65 C123.86,382.01 122.50,381.66 122.14,381.66"/><path d="M135.09,373.55 C135.35,373.29 136.15,372.53 136.66,372.00 C137.17,371.48 137.55,370.50 138.13,370.37 C138.72,370.24 139.47,371.18 140.16,371.22 C140.86,371.26 141.57,370.81 142.28,370.63 C143.00,370.46 143.86,369.96 144.44,370.17 C145.01,370.39 145.54,371.64 145.76,371.93"/><path d="M139.85,374.34 C140.13,374.57 141.05,375.20 141.54,375.74 C142.03,376.27 142.23,377.25 142.80,377.54 C143.38,377.82 144.28,377.36 145.00,377.45 C145.72,377.54 146.40,377.90 147.11,378.06 C147.83,378.22 148.62,378.57 149.28,378.43 C149.95,378.28 150.79,377.39 151.10,377.18"/><path d="M143.70,374.46 C144.00,374.67 145.01,375.22 145.48,375.76 C145.95,376.30 146.15,377.07 146.54,377.69 C146.92,378.31 147.25,379.06 147.81,379.48 C148.37,379.90 149.23,379.89 149.89,380.20 C150.55,380.52 151.11,381.04 151.76,381.35 C152.42,381.66 153.49,381.96 153.84,382.08"/><path d="M150.36,374.46 C150.50,374.80 151.16,375.78 151.23,376.48 C151.30,377.18 150.70,377.95 150.79,378.64 C150.89,379.32 151.27,380.23 151.81,380.59 C152.34,380.94 153.47,380.42 154.00,380.78 C154.53,381.14 154.92,382.07 154.98,382.75 C155.05,383.43 154.48,384.51 154.38,384.86"/><path d="M155.25,374.12 C155.04,374.42 154.45,375.36 153.98,375.91 C153.51,376.47 153.00,377.02 152.42,377.47 C151.85,377.92 151.22,378.35 150.54,378.62 C149.87,378.88 149.08,379.14 148.39,379.06 C147.70,378.97 147.09,378.12 146.42,378.08 C145.74,378.05 144.69,378.71 144.35,378.84"/><path d="M159.70,375.36 C160.03,375.52 161.07,376.41 161.67,376.33 C162.27,376.24 163.14,375.44 163.30,374.84 C163.45,374.24 163.02,373.32 162.62,372.75 C162.22,372.17 161.50,371.79 160.88,371.39 C160.27,371.00 159.50,370.83 158.92,370.40 C158.33,369.98 157.63,369.10 157.37,368.84"/><path d="M164.60,374.48 C164.90,374.27 165.74,373.48 166.40,373.21 C167.06,372.93 167.84,372.92 168.57,372.85 C169.30,372.78 170.05,372.68 170.77,372.79 C171.48,372.89 172.14,373.35 172.86,373.46 C173.58,373.57 174.33,373.45 175.06,373.42 C175.79,373.38 176.89,373.28 177.25,373.26"/><path d="M170.02,374.09 C170.30,373.84 171.49,373.23 171.67,372.63 C171.85,372.03 171.55,370.98 171.11,370.51 C170.67,370.03 169.53,370.25 169.02,369.81 C168.52,369.36 168.28,368.51 168.08,367.82 C167.87,367.12 167.65,366.31 167.81,365.64 C167.96,364.96 168.81,364.10 169.01,363.79"/><path d="M100.49,378.52 C100.50,378.15 100.40,377.02 100.57,376.32 C100.73,375.62 100.98,374.61 101.49,374.32 C102.01,374.04 102.96,374.69 103.67,374.62 C104.38,374.56 105.05,374.12 105.76,373.93 C106.47,373.75 107.23,373.43 107.92,373.51 C108.61,373.60 109.57,374.31 109.91,374.47"/><path d="M106.68,378.86 C106.79,379.21 107.45,380.32 107.33,380.96 C107.21,381.59 106.03,382.05 105.95,382.67 C105.87,383.29 106.33,384.32 106.84,384.68 C107.36,385.04 108.32,384.72 109.04,384.83 C109.76,384.94 110.46,385.19 111.18,385.34 C111.90,385.50 112.98,385.70 113.34,385.77"/><path d="M111.41,378.60 C111.11,378.38 110.29,377.48 109.63,377.30 C108.97,377.13 108.16,377.63 107.45,377.56 C106.73,377.49 105.96,376.75 105.35,376.90 C104.74,377.05 104.15,377.84 103.79,378.45 C103.43,379.06 103.56,379.98 103.18,380.57 C102.80,381.16 101.79,381.76 101.51,382.00"/><path d="M116.63,378.57 C116.94,378.75 118.05,379.16 118.53,379.67 C119.01,380.19 119.07,381.07 119.49,381.65 C119.92,382.24 120.46,383.01 121.08,383.18 C121.70,383.35 122.51,382.65 123.22,382.69 C123.93,382.72 124.64,383.08 125.31,383.37 C125.98,383.66 126.92,384.25 127.24,384.42"/><path d="M122.28,379.88 C122.56,379.64 123.31,378.66 123.95,378.45 C124.60,378.25 125.44,378.76 126.14,378.63 C126.84,378.51 127.59,378.17 128.15,377.73 C128.71,377.29 129.14,376.63 129.52,376.00 C129.89,375.38 129.88,374.33 130.39,373.99 C130.91,373.64 132.23,373.93 132.59,373.92"/><path d="M127.43,378.50 C127.30,378.84 126.80,379.85 126.67,380.56 C126.54,381.27 126.58,382.04 126.68,382.76 C126.78,383.48 126.98,384.22 127.27,384.88 C127.57,385.54 127.90,386.35 128.45,386.74 C129.01,387.12 129.91,386.98 130.61,387.20 C131.31,387.41 132.31,387.87 132.65,388.00"/><path d="M132.43,379.08 C132.67,378.80 133.67,378.05 133.86,377.41 C134.05,376.76 133.43,375.91 133.57,375.23 C133.70,374.55 134.14,373.67 134.69,373.34 C135.25,373.01 136.22,373.47 136.89,373.25 C137.56,373.02 138.50,372.55 138.69,371.98 C138.89,371.42 138.18,370.22 138.08,369.87"/><path d="M137.07,379.09 C137.09,378.72 137.03,377.59 137.22,376.89 C137.40,376.20 137.68,375.36 138.19,374.92 C138.70,374.48 139.89,374.71 140.28,374.23 C140.67,373.75 140.40,372.76 140.53,372.04 C140.66,371.32 140.66,370.46 141.05,369.90 C141.45,369.35 142.58,368.89 142.89,368.69"/><path d="M141.41,378.16 C141.71,377.95 142.95,377.47 143.21,376.89 C143.46,376.32 142.90,375.43 142.93,374.71 C142.97,373.99 143.58,373.20 143.43,372.57 C143.27,371.93 142.27,371.53 142.01,370.89 C141.75,370.24 141.78,369.40 141.87,368.69 C141.97,367.98 142.46,366.95 142.58,366.61"/><path d="M146.93,378.44 C146.99,378.08 146.94,376.87 147.26,376.27 C147.59,375.66 148.43,375.35 148.90,374.80 C149.37,374.25 149.83,373.61 150.08,372.94 C150.33,372.27 149.99,371.20 150.40,370.77 C150.81,370.33 151.84,370.30 152.55,370.31 C153.27,370.32 154.33,370.74 154.69,370.83"/><path d="M152.63,379.07 C152.76,378.73 152.91,377.41 153.40,377.01 C153.89,376.62 154.87,376.90 155.58,376.72 C156.29,376.54 156.97,375.90 157.63,375.94 C158.30,375.97 159.03,376.50 159.58,376.96 C160.13,377.42 160.79,378.06 160.92,378.70 C161.05,379.35 160.44,380.47 160.35,380.82"/><path d="M158.45,379.67 C158.77,379.84 159.83,380.25 160.39,380.70 C160.96,381.15 161.37,381.80 161.84,382.36 C162.30,382.93 162.91,383.46 163.17,384.11 C163.43,384.77 163.60,385.65 163.41,386.30 C163.22,386.95 162.42,387.40 162.03,388.01 C161.63,388.62 161.19,389.64 161.02,389.97"/><path d="M162.88,378.29 C163.22,378.17 164.32,377.89 164.95,377.54 C165.58,377.19 166.37,376.76 166.67,376.17 C166.97,375.57 166.98,374.61 166.74,373.97 C166.51,373.33 165.81,372.83 165.27,372.34 C164.73,371.85 164.16,371.28 163.50,371.02 C162.85,370.77 161.68,370.84 161.31,370.80"/><path d="M169.18,378.12 C169.40,378.41 170.17,379.24 170.48,379.89 C170.79,380.54 171.10,381.34 171.03,382.02 C170.95,382.70 170.07,383.32 170.03,383.99 C170.00,384.66 170.32,385.67 170.82,386.04 C171.32,386.41 172.28,386.18 173.02,386.19 C173.75,386.20 174.85,386.12 175.21,386.10"/><path d="M102.57,382.67 C102.93,382.62 104.15,382.70 104.75,382.37 C105.35,382.04 105.93,381.33 106.16,380.69 C106.40,380.04 105.98,379.16 106.19,378.49 C106.39,377.81 106.92,377.20 107.39,376.64 C107.85,376.08 108.69,375.76 109.00,375.14 C109.30,374.53 109.19,373.32 109.23,372.96"/><path d="M106.32,383.16 C106.26,383.52 105.88,384.62 105.92,385.33 C105.97,386.04 106.41,386.71 106.59,387.42 C106.76,388.13 107.14,388.93 106.98,389.59 C106.83,390.24 106.09,390.75 105.66,391.35 C105.24,391.95 104.63,392.50 104.44,393.18 C104.25,393.85 104.50,395.01 104.51,395.37"/><path d="M112.93,384.43 C112.69,384.71 112.09,385.94 111.51,386.11 C110.92,386.27 110.12,385.63 109.42,385.42 C108.72,385.20 107.98,384.76 107.30,384.82 C106.62,384.88 105.63,385.26 105.32,385.78 C105.01,386.31 105.74,387.45 105.43,387.98 C105.12,388.51 103.79,388.79 103.46,388.95"/><path d="M117.96,383.37 C117.60,383.29 116.51,382.85 115.81,382.90 C115.11,382.96 114.32,383.86 113.76,383.70 C113.19,383.55 112.71,382.62 112.39,381.97 C112.07,381.33 112.22,380.42 111.83,379.85 C111.44,379.28 110.64,378.55 110.05,378.55 C109.46,378.55 108.59,379.65 108.29,379.87"/><path d="M122.50,383.34 C122.77,383.10 123.54,382.29 124.15,381.89 C124.75,381.49 125.72,381.45 126.13,380.94 C126.55,380.42 126.78,379.44 126.64,378.80 C126.50,378.15 125.85,377.51 125.29,377.06 C124.74,376.61 124.00,376.20 123.31,376.10 C122.62,376.01 121.51,376.43 121.15,376.49"/><path d="M128.49,383.63 C128.69,383.32 129.50,382.46 129.68,381.78 C129.87,381.11 129.60,380.32 129.60,379.58 C129.61,378.85 129.98,377.99 129.72,377.39 C129.47,376.78 128.40,376.54 128.07,375.94 C127.74,375.34 128.16,374.17 127.74,373.77 C127.32,373.36 125.92,373.54 125.55,373.49"/><path d="M133.60,384.29 C133.38,384.00 132.86,382.94 132.29,382.52 C131.73,382.10 130.79,382.20 130.22,381.78 C129.65,381.37 129.45,380.29 128.86,380.06 C128.27,379.82 127.40,380.25 126.68,380.37 C125.96,380.50 125.23,380.63 124.52,380.80 C123.81,380.98 122.76,381.31 122.41,381.41"/><path d="M139.06,383.77 C139.12,383.41 139.07,382.19 139.42,381.60 C139.77,381.02 140.64,380.77 141.17,380.26 C141.69,379.76 141.99,378.78 142.58,378.58 C143.18,378.38 144.13,379.24 144.73,379.05 C145.34,378.85 145.58,377.67 146.19,377.39 C146.79,377.12 148.02,377.39 148.39,377.39"/><path d="M142.77,383.69 C142.50,383.93 141.77,384.96 141.13,385.15 C140.49,385.35 139.66,384.78 138.95,384.86 C138.24,384.94 137.47,385.22 136.89,385.63 C136.30,386.03 135.54,386.66 135.43,387.28 C135.32,387.89 135.83,388.75 136.25,389.32 C136.67,389.89 137.67,390.48 137.95,390.71"/><path d="M148.49,384.03 C148.15,384.17 146.85,384.37 146.46,384.88 C146.06,385.38 146.14,386.33 146.13,387.05 C146.12,387.78 146.27,388.51 146.40,389.24 C146.53,389.96 147.11,390.82 146.89,391.38 C146.66,391.94 145.71,392.49 145.05,392.59 C144.39,392.69 143.28,392.09 142.93,391.99"/><path d="M154.06,382.62 C153.70,382.71 152.50,382.75 151.92,383.12 C151.33,383.49 151.06,384.32 150.56,384.85 C150.07,385.39 149.45,385.82 148.94,386.34 C148.43,386.86 147.54,387.41 147.49,387.99 C147.44,388.58 148.70,389.28 148.65,389.87 C148.60,390.45 147.43,391.24 147.19,391.51"/><path d="M159.55,383.01 C159.19,382.95 158.11,382.63 157.39,382.61 C156.66,382.59 155.94,382.85 155.21,382.91 C154.48,382.98 153.69,382.78 153.01,382.99 C152.33,383.20 151.66,383.66 151.15,384.16 C150.63,384.66 150.24,385.33 149.92,385.99 C149.61,386.64 149.37,387.73 149.26,388.08"/><path d="M164.49,383.11 C164.38,383.46 163.91,384.51 163.86,385.22 C163.82,385.94 164.46,386.84 164.20,387.40 C163.95,387.96 163.00,388.24 162.35,388.58 C161.71,388.93 161.03,389.37 160.33,389.45 C159.63,389.53 158.88,389.04 158.17,389.07 C157.45,389.10 156.40,389.55 156.04,389.64"/><path d="M170.01,382.78 C170.37,382.72 171.46,382.37 172.17,382.41 C172.89,382.46 173.68,382.67 174.28,383.05 C174.88,383.42 175.15,384.40 175.76,384.68 C176.37,384.95 177.24,384.77 177.96,384.68 C178.68,384.59 179.44,384.01 180.09,384.13 C180.74,384.25 181.58,385.20 181.88,385.41"/><path d="M100.96,387.65 C101.33,387.66 102.43,387.76 103.16,387.67 C103.88,387.59 104.86,387.61 105.30,387.17 C105.74,386.73 105.36,385.47 105.79,385.02 C106.23,384.58 107.24,384.73 107.93,384.48 C108.61,384.23 109.25,383.85 109.92,383.54 C110.59,383.24 111.60,382.81 111.94,382.67"/><path d="M107.27,388.73 C107.33,388.37 107.65,387.27 107.60,386.56 C107.55,385.84 107.26,385.12 106.98,384.45 C106.69,383.78 106.43,382.78 105.89,382.54 C105.35,382.29 104.42,382.75 103.74,382.99 C103.05,383.22 102.46,383.83 101.77,383.97 C101.08,384.11 99.94,383.87 99.57,383.85"/><path d="M113.14,388.78 C113.04,388.43 113.00,387.03 112.53,386.67 C112.06,386.30 111.04,386.45 110.33,386.58 C109.63,386.71 108.90,387.04 108.31,387.44 C107.72,387.85 107.38,388.63 106.79,389.04 C106.21,389.46 105.17,389.43 104.79,389.94 C104.40,390.45 104.55,391.76 104.51,392.12"/><path d="M117.13,388.22 C117.46,388.05 118.40,387.44 119.08,387.20 C119.77,386.96 120.71,387.17 121.24,386.77 C121.77,386.38 121.76,385.29 122.27,384.83 C122.79,384.37 123.68,383.91 124.31,384.00 C124.94,384.08 125.50,384.86 126.05,385.35 C126.60,385.83 127.35,386.64 127.61,386.90"/><path d="M122.28,388.20 C122.33,388.56 122.85,389.87 122.56,390.38 C122.27,390.90 121.23,391.01 120.56,391.30 C119.89,391.59 119.22,392.06 118.52,392.14 C117.82,392.21 116.90,392.14 116.36,391.76 C115.81,391.38 115.79,390.27 115.25,389.86 C114.71,389.45 113.47,389.39 113.12,389.30"/><path d="M128.67,388.45 C129.03,388.51 130.16,388.92 130.84,388.80 C131.52,388.69 132.10,388.03 132.77,387.74 C133.44,387.45 134.16,387.12 134.86,387.08 C135.57,387.05 136.30,387.54 137.02,387.53 C137.73,387.52 138.57,386.82 139.16,387.02 C139.75,387.21 140.33,388.43 140.56,388.71"/><path d="M132.70,388.13 C132.54,388.46 131.74,389.46 131.76,390.12 C131.79,390.77 132.84,391.40 132.83,392.04 C132.82,392.67 132.11,393.32 131.70,393.92 C131.28,394.53 130.85,395.12 130.36,395.67 C129.87,396.21 129.33,396.72 128.76,397.18 C128.19,397.64 127.24,398.21 126.94,398.42"/><path d="M137.71,389.02 C137.97,389.28 138.83,389.99 139.28,390.56 C139.72,391.13 139.84,392.12 140.39,392.46 C140.94,392.79 141.99,392.28 142.59,392.59 C143.18,392.90 143.38,393.90 143.95,394.31 C144.52,394.73 145.60,394.59 146.01,395.08 C146.42,395.56 146.35,396.88 146.42,397.24"/><path d="M142.86,388.35 C142.75,388.00 142.37,386.96 142.19,386.25 C142.01,385.54 142.20,384.55 141.78,384.09 C141.36,383.63 140.24,383.28 139.67,383.47 C139.10,383.67 138.51,384.59 138.36,385.24 C138.21,385.90 139.04,386.87 138.79,387.40 C138.53,387.94 137.18,388.28 136.85,388.45"/><path d="M149.46,388.52 C149.19,388.77 148.50,389.73 147.87,390.04 C147.24,390.34 146.38,390.14 145.69,390.36 C145.00,390.57 144.40,391.08 143.71,391.32 C143.02,391.56 142.23,391.91 141.56,391.79 C140.90,391.67 140.31,390.56 139.72,390.59 C139.13,390.62 138.29,391.74 138.01,391.98"/><path d="M153.18,388.14 C153.48,388.34 154.43,388.92 154.99,389.38 C155.55,389.85 155.92,390.70 156.55,390.94 C157.17,391.17 158.01,390.82 158.74,390.79 C159.48,390.77 160.28,390.99 160.94,390.77 C161.61,390.55 162.10,389.85 162.72,389.47 C163.35,389.10 164.37,388.67 164.70,388.51"/><path d="M158.64,388.48 C158.93,388.71 159.71,389.73 160.35,389.87 C160.99,390.01 161.92,389.13 162.49,389.35 C163.05,389.56 163.42,390.50 163.76,391.14 C164.10,391.78 164.25,392.52 164.53,393.20 C164.81,393.88 165.08,394.57 165.46,395.19 C165.84,395.82 166.59,396.64 166.82,396.92"/><path d="M164.43,388.58 C164.66,388.30 165.39,387.47 165.85,386.90 C166.32,386.34 166.65,385.33 167.21,385.18 C167.78,385.03 168.80,385.51 169.25,386.00 C169.71,386.48 170.02,387.45 169.92,388.09 C169.82,388.74 169.00,389.25 168.65,389.89 C168.31,390.53 167.98,391.60 167.84,391.94"/><path d="M169.25,388.33 C169.56,388.15 170.50,387.57 171.15,387.22 C171.79,386.88 172.49,386.62 173.12,386.24 C173.74,385.86 174.25,385.00 174.88,384.93 C175.51,384.86 176.19,385.68 176.90,385.81 C177.60,385.94 178.60,386.05 179.09,385.69 C179.59,385.33 179.74,383.98 179.87,383.63"/><path d="M102.98,393.26 C102.87,392.91 102.70,391.77 102.32,391.16 C101.95,390.56 101.19,390.21 100.73,389.65 C100.26,389.09 100.10,388.06 99.54,387.79 C98.98,387.53 97.89,387.68 97.36,388.05 C96.82,388.42 96.64,389.33 96.34,390.00 C96.05,390.67 95.73,391.73 95.61,392.07"/><path d="M107.38,392.59 C107.63,392.86 108.39,393.66 108.86,394.22 C109.34,394.78 109.64,395.58 110.23,395.95 C110.81,396.32 111.66,396.45 112.37,396.43 C113.08,396.41 113.82,396.12 114.49,395.83 C115.15,395.53 115.93,395.21 116.36,394.67 C116.79,394.13 116.96,392.94 117.08,392.59"/><path d="M111.71,393.62 C112.07,393.70 113.36,393.68 113.86,394.10 C114.36,394.52 114.36,395.49 114.71,396.13 C115.06,396.77 115.82,397.28 115.96,397.94 C116.10,398.61 115.42,399.43 115.54,400.10 C115.66,400.78 116.51,401.32 116.66,402.00 C116.80,402.68 116.46,403.82 116.42,404.19"/><path d="M117.91,393.61 C117.98,393.97 117.92,395.26 118.33,395.77 C118.74,396.27 119.69,396.31 120.35,396.63 C121.01,396.94 122.00,397.14 122.29,397.68 C122.57,398.22 121.76,399.37 122.06,399.87 C122.37,400.37 123.42,400.64 124.11,400.67 C124.81,400.70 125.87,400.14 126.22,400.03"/><path d="M122.58,392.45 C122.63,392.81 123.08,393.97 122.90,394.62 C122.73,395.27 121.91,395.72 121.54,396.35 C121.17,396.97 120.83,397.67 120.67,398.37 C120.52,399.08 120.71,399.85 120.61,400.57 C120.51,401.29 119.86,402.13 120.06,402.70 C120.26,403.28 121.53,403.80 121.82,404.02"/><path d="M127.24,393.60 C127.11,393.94 126.96,395.28 126.47,395.66 C125.97,396.03 124.79,396.14 124.27,395.84 C123.76,395.53 123.71,394.48 123.39,393.82 C123.07,393.16 122.88,392.32 122.37,391.88 C121.85,391.44 120.99,391.22 120.28,391.18 C119.57,391.14 118.49,391.56 118.13,391.63"/><path d="M134.22,393.59 C134.03,393.91 133.34,394.81 133.10,395.48 C132.85,396.16 132.84,396.93 132.75,397.66 C132.67,398.39 132.34,399.22 132.57,399.85 C132.79,400.48 133.92,400.81 134.09,401.43 C134.27,402.05 134.06,403.20 133.61,403.58 C133.17,403.96 131.79,403.70 131.42,403.72"/><path d="M137.98,393.06 C137.77,393.36 136.72,394.24 136.70,394.85 C136.68,395.47 137.29,396.42 137.85,396.73 C138.41,397.04 139.38,396.52 140.05,396.73 C140.72,396.93 141.21,397.70 141.88,397.94 C142.55,398.18 143.55,397.79 144.07,398.16 C144.59,398.52 144.84,399.82 144.99,400.15"/><path d="M144.52,393.23 C144.59,393.58 145.20,394.80 144.98,395.38 C144.77,395.96 143.78,396.22 143.23,396.70 C142.68,397.18 141.82,397.65 141.68,398.26 C141.53,398.87 141.93,399.82 142.35,400.36 C142.78,400.89 143.56,401.28 144.24,401.48 C144.92,401.69 146.07,401.55 146.44,401.57"/><path d="M149.40,392.19 C149.73,392.35 150.81,392.71 151.38,393.15 C151.94,393.59 152.57,394.19 152.79,394.84 C153.00,395.49 152.57,396.32 152.65,397.04 C152.72,397.76 153.19,398.44 153.23,399.16 C153.28,399.87 153.29,400.82 152.90,401.33 C152.51,401.84 151.23,402.08 150.89,402.23"/><path d="M154.36,392.26 C153.99,392.31 152.89,392.62 152.18,392.57 C151.46,392.51 150.77,391.93 150.07,391.93 C149.37,391.93 148.68,392.48 147.96,392.56 C147.25,392.63 146.34,392.11 145.77,392.39 C145.20,392.67 145.12,394.02 144.56,394.23 C144.01,394.44 142.79,393.74 142.44,393.65"/><path d="M159.26,392.86 C159.06,393.16 158.52,394.14 158.05,394.69 C157.57,395.24 156.78,395.56 156.41,396.16 C156.03,396.76 155.77,397.58 155.80,398.27 C155.83,398.97 156.60,399.65 156.58,400.33 C156.57,401.00 155.61,401.71 155.68,402.33 C155.76,402.96 156.79,403.79 157.02,404.08"/><path d="M164.15,393.31 C164.35,393.61 165.01,394.50 165.39,395.13 C165.76,395.76 165.88,396.66 166.40,397.08 C166.92,397.51 168.06,397.24 168.51,397.69 C168.96,398.15 169.29,399.27 169.07,399.82 C168.85,400.37 167.45,400.44 167.21,400.99 C166.97,401.54 167.58,402.79 167.65,403.14"/><path d="M169.70,393.30 C169.36,393.16 168.34,392.74 167.67,392.46 C166.99,392.18 166.30,391.61 165.63,391.62 C164.96,391.64 164.33,392.30 163.64,392.56 C162.96,392.82 162.25,393.12 161.54,393.20 C160.82,393.28 160.06,392.95 159.35,393.02 C158.63,393.09 157.59,393.53 157.23,393.64"/><path d="M102.54,397.43 C102.32,397.14 101.51,396.32 101.23,395.67 C100.96,395.01 100.98,394.22 100.88,393.49 C100.79,392.77 100.37,391.85 100.65,391.31 C100.94,390.76 102.18,390.78 102.58,390.25 C102.98,389.71 102.69,388.67 103.07,388.10 C103.44,387.53 104.56,387.03 104.85,386.82"/><path d="M106.51,397.62 C106.59,397.97 107.12,399.07 107.04,399.75 C106.97,400.43 106.57,401.26 106.06,401.72 C105.55,402.18 104.69,402.51 104.00,402.50 C103.32,402.49 102.66,401.69 101.97,401.65 C101.28,401.62 100.56,402.07 99.87,402.29 C99.17,402.51 98.13,402.87 97.78,402.98"/><path d="M111.82,397.56 C111.69,397.90 111.39,398.98 111.05,399.62 C110.71,400.27 110.34,400.98 109.79,401.43 C109.25,401.87 108.47,402.07 107.77,402.29 C107.08,402.52 106.25,402.94 105.62,402.77 C105.00,402.59 104.65,401.48 104.02,401.26 C103.39,401.04 102.19,401.40 101.82,401.43"/><path d="M116.88,396.44 C116.52,396.51 115.42,396.67 114.72,396.86 C114.02,397.06 113.20,397.18 112.65,397.61 C112.10,398.03 111.96,399.04 111.39,399.41 C110.82,399.78 109.69,399.40 109.23,399.82 C108.77,400.24 109.09,401.50 108.64,401.94 C108.18,402.38 106.86,402.37 106.50,402.46"/><path d="M122.91,397.49 C122.76,397.15 122.52,395.90 122.02,395.48 C121.51,395.06 120.59,394.96 119.87,394.97 C119.16,394.98 118.15,395.08 117.75,395.54 C117.35,396.00 117.40,397.02 117.48,397.72 C117.57,398.43 118.12,399.07 118.26,399.78 C118.41,400.49 118.35,401.61 118.37,401.98"/><path d="M128.03,396.93 C127.71,397.11 126.78,397.94 126.11,398.01 C125.44,398.07 124.68,397.24 124.02,397.31 C123.36,397.39 122.58,397.91 122.13,398.43 C121.67,398.96 121.24,399.80 121.27,400.46 C121.30,401.12 122.13,401.71 122.29,402.41 C122.46,403.10 122.27,404.24 122.27,404.61"/><path d="M133.84,397.97 C134.20,398.03 135.29,398.32 136.01,398.31 C136.73,398.29 137.59,398.24 138.17,397.87 C138.74,397.50 138.90,396.29 139.47,396.09 C140.04,395.90 141.00,396.90 141.58,396.71 C142.16,396.53 142.49,395.56 142.94,394.98 C143.38,394.40 144.03,393.51 144.25,393.21"/><path d="M138.90,398.37 C139.15,398.63 140.13,399.31 140.44,399.94 C140.75,400.56 140.34,401.67 140.75,402.12 C141.16,402.56 142.21,402.69 142.89,402.62 C143.58,402.55 144.24,401.64 144.88,401.68 C145.52,401.72 146.08,402.80 146.73,402.87 C147.38,402.93 148.45,402.22 148.79,402.09"/><path d="M143.36,397.00 C143.36,397.36 143.03,398.70 143.37,399.20 C143.72,399.69 145.12,399.47 145.43,399.96 C145.75,400.45 145.55,401.52 145.27,402.15 C144.99,402.79 144.37,403.41 143.76,403.75 C143.15,404.09 142.19,403.83 141.60,404.20 C141.02,404.56 140.47,405.64 140.25,405.93"/><path d="M148.28,397.50 C148.34,397.87 148.86,399.11 148.61,399.68 C148.37,400.25 147.31,400.41 146.80,400.92 C146.28,401.42 145.81,402.05 145.52,402.71 C145.24,403.37 145.53,404.46 145.10,404.87 C144.66,405.27 143.64,405.16 142.91,405.14 C142.19,405.13 141.10,404.84 140.74,404.78"/><path d="M153.05,397.21 C152.70,397.28 151.56,397.37 150.90,397.66 C150.24,397.94 149.77,398.67 149.10,398.93 C148.44,399.18 147.53,399.40 146.92,399.16 C146.31,398.93 145.87,398.12 145.45,397.53 C145.03,396.93 144.40,396.23 144.40,395.59 C144.40,394.95 145.29,393.99 145.47,393.67"/><path d="M159.10,397.19 C159.20,396.83 159.29,395.62 159.70,395.07 C160.11,394.52 161.15,394.44 161.56,393.89 C161.96,393.34 162.09,392.49 162.14,391.77 C162.19,391.05 162.20,390.17 161.85,389.59 C161.51,389.01 160.63,388.78 160.06,388.31 C159.49,387.85 158.72,387.07 158.45,386.82"/><path d="M163.70,396.81 C163.81,397.16 163.99,398.30 164.37,398.90 C164.74,399.51 165.39,399.96 165.95,400.43 C166.51,400.90 167.56,401.16 167.73,401.72 C167.91,402.28 167.39,403.20 167.00,403.80 C166.61,404.40 166.04,405.13 165.41,405.32 C164.79,405.51 163.61,404.99 163.25,404.93"/><path d="M168.98,397.17 C169.20,397.47 169.74,398.46 170.25,398.96 C170.77,399.47 171.40,399.99 172.07,400.20 C172.74,400.41 173.79,400.57 174.27,400.23 C174.76,399.88 175.04,398.82 174.99,398.15 C174.93,397.48 174.44,396.70 173.94,396.21 C173.44,395.73 172.30,395.40 171.97,395.24"/><path d="M102.03,402.43 C102.11,402.79 102.14,404.06 102.56,404.57 C102.98,405.07 104.22,404.96 104.56,405.47 C104.90,405.99 104.45,406.97 104.58,407.67 C104.72,408.38 105.37,409.03 105.39,409.72 C105.41,410.41 105.10,411.24 104.70,411.81 C104.30,412.39 103.27,412.96 102.98,413.18"/><path d="M107.19,401.04 C107.14,401.40 106.62,402.63 106.86,403.22 C107.10,403.80 108.35,403.94 108.62,404.53 C108.90,405.11 108.37,406.02 108.49,406.72 C108.60,407.43 109.30,408.07 109.33,408.76 C109.35,409.45 108.89,410.16 108.65,410.85 C108.41,411.54 108.00,412.57 107.87,412.91"/><path d="M110.69,401.79 C111.04,401.90 112.14,402.54 112.79,402.45 C113.44,402.35 113.95,401.53 114.60,401.20 C115.24,400.86 116.32,400.92 116.66,400.43 C117.00,399.93 116.83,398.92 116.65,398.23 C116.48,397.54 116.02,396.89 115.62,396.29 C115.21,395.68 114.45,394.87 114.22,394.59"/><path d="M116.87,401.27 C116.58,401.04 115.55,400.48 115.15,399.90 C114.75,399.32 114.55,398.51 114.48,397.80 C114.41,397.09 114.97,396.24 114.75,395.62 C114.53,395.00 113.81,394.34 113.18,394.08 C112.55,393.82 111.66,393.87 110.98,394.06 C110.30,394.25 109.43,395.04 109.12,395.23"/><path d="M122.40,401.81 C122.05,401.72 120.95,401.21 120.27,401.29 C119.58,401.37 118.83,401.82 118.31,402.29 C117.79,402.77 117.40,403.49 117.15,404.16 C116.90,404.84 116.66,405.67 116.81,406.34 C116.96,407.01 117.47,407.94 118.03,408.17 C118.59,408.40 119.82,407.79 120.18,407.71"/><path d="M126.23,402.26 C126.10,401.92 125.31,400.77 125.47,400.20 C125.62,399.62 126.75,399.38 127.17,398.80 C127.58,398.22 127.54,397.34 127.94,396.74 C128.33,396.14 128.90,395.35 129.52,395.21 C130.13,395.07 130.92,395.93 131.60,395.90 C132.29,395.87 133.28,395.16 133.62,395.01"/><path d="M132.76,402.33 C133.04,402.56 133.82,403.49 134.47,403.71 C135.13,403.93 135.96,403.56 136.67,403.68 C137.39,403.79 138.14,404.52 138.75,404.39 C139.37,404.27 139.89,403.45 140.39,402.92 C140.88,402.38 141.36,401.80 141.71,401.16 C142.06,400.53 142.37,399.45 142.50,399.11"/><path d="M136.70,401.77 C136.53,402.09 135.81,403.02 135.68,403.71 C135.54,404.40 135.53,405.34 135.87,405.91 C136.21,406.48 137.04,406.81 137.69,407.14 C138.34,407.47 139.07,407.65 139.77,407.87 C140.47,408.10 141.23,408.58 141.88,408.47 C142.54,408.37 143.41,407.45 143.71,407.25"/><path d="M143.11,401.48 C143.47,401.54 144.55,401.81 145.28,401.86 C146.00,401.91 146.89,402.10 147.48,401.80 C148.06,401.49 148.29,400.56 148.78,400.02 C149.27,399.49 149.80,398.89 150.43,398.57 C151.07,398.26 151.86,398.23 152.59,398.14 C153.31,398.04 154.42,398.03 154.78,398.01"/><path d="M148.38,401.05 C148.19,401.36 147.24,402.32 147.26,402.94 C147.28,403.56 148.02,404.21 148.50,404.75 C148.98,405.30 149.55,406.12 150.15,406.21 C150.76,406.29 151.48,405.59 152.15,405.27 C152.81,404.96 153.44,404.56 154.13,404.32 C154.82,404.08 155.92,403.91 156.27,403.83"/><path d="M153.12,401.65 C153.46,401.78 154.47,402.30 155.18,402.41 C155.89,402.52 156.81,402.03 157.38,402.31 C157.95,402.60 158.26,403.50 158.61,404.13 C158.97,404.77 159.05,405.62 159.52,406.14 C159.99,406.66 160.90,406.76 161.43,407.24 C161.95,407.73 162.47,408.75 162.68,409.05"/><path d="M157.75,401.94 C157.87,401.59 158.36,400.57 158.48,399.86 C158.59,399.15 158.37,398.39 158.43,397.66 C158.48,396.93 158.39,395.95 158.81,395.50 C159.23,395.05 160.26,394.89 160.95,394.96 C161.63,395.04 162.33,395.52 162.92,395.94 C163.50,396.37 164.20,397.25 164.46,397.51"/><path d="M163.82,401.82 C163.66,402.15 163.36,403.37 162.85,403.79 C162.33,404.22 161.35,404.50 160.72,404.35 C160.09,404.20 159.69,403.28 159.08,402.88 C158.47,402.48 157.44,402.49 157.08,401.97 C156.71,401.46 157.28,400.25 156.90,399.78 C156.52,399.31 155.14,399.26 154.79,399.15"/><path d="M168.05,402.01 C168.05,402.38 168.39,403.73 168.04,404.21 C167.69,404.70 166.42,404.45 165.95,404.92 C165.49,405.38 165.19,406.32 165.23,407.00 C165.27,407.67 165.71,408.49 166.22,408.96 C166.72,409.43 167.67,409.40 168.24,409.82 C168.82,410.24 169.43,411.22 169.66,411.50"/></g></g>
<path d="M103.00,393.00 C103.32,390.10 104.05,384.33 105.50,380.60 C106.95,376.87 108.82,373.50 111.70,370.60 C114.58,367.70 118.87,365.17 122.80,363.20 C126.73,361.23 131.57,359.63 135.30,358.80 C139.03,357.97 141.68,357.78 145.20,358.20 C148.72,358.62 153.10,359.65 156.40,361.30 C159.70,362.95 162.83,365.52 165.00,368.10 C167.17,370.68 168.77,374.10 169.40,376.80 C170.03,379.50 169.42,382.43 168.80,384.30 C168.18,386.17 167.77,387.17 165.70,388.00 C163.63,388.83 158.75,388.47 156.40,389.30 C154.05,390.13 152.43,391.35 151.60,393.00 C150.77,394.65 152.05,397.55 151.40,399.20 C150.75,400.85 149.77,402.07 147.70,402.90 C145.63,403.73 142.12,404.18 139.00,404.20 C135.88,404.22 132.32,403.42 129.00,403.00 C125.68,402.58 122.40,401.92 119.10,401.70 C115.80,401.48 111.78,402.32 109.20,401.70 C106.62,401.08 104.63,399.45 103.60,398.00 C102.57,396.55 102.68,395.90 103.00,393.00 Z" fill="none" stroke="#b5a893" stroke-width="0.8"/>
<path d="M474.50,381.70 C475.30,380.32 476.42,378.98 477.50,378.00 C478.58,377.02 479.75,376.25 481.00,375.80 C482.25,375.35 483.42,375.08 485.00,375.30 C486.58,375.52 488.97,376.33 490.50,377.10 C492.03,377.87 493.12,378.92 494.20,379.90 C495.28,380.88 496.07,382.08 497.00,383.00 C497.93,383.92 498.87,384.25 499.80,385.40 C500.73,386.55 501.75,388.23 502.60,389.90 C503.45,391.57 504.23,393.27 504.90,395.40 C505.57,397.53 506.18,400.10 506.60,402.70 C507.02,405.30 507.33,408.55 507.40,411.00 C507.47,413.45 507.35,415.57 507.00,417.40 C506.65,419.23 506.37,421.32 505.30,422.00 C504.23,422.68 502.45,422.05 500.60,421.50 C498.75,420.95 496.48,419.92 494.20,418.70 C491.92,417.48 489.18,415.80 486.90,414.20 C484.62,412.60 482.33,410.70 480.50,409.10 C478.67,407.50 477.13,406.42 475.90,404.60 C474.67,402.78 473.72,400.33 473.10,398.20 C472.48,396.07 472.27,393.78 472.20,391.80 C472.13,389.82 472.32,387.98 472.70,386.30 C473.08,384.62 473.70,383.08 474.50,381.70 Z" fill="url(#gHeart)"/>
<path d="M477,379 C480,375 486,374 491,377 C494,379 496,381 497,384 L489,388 C485,385 480,386 476,389 Z" fill="#c81818"/>
<line x1="475.6" y1="373.2" x2="479" y2="381" stroke="#4a6fd8" stroke-width="5" stroke-linecap="round"/>
<ellipse cx="475.6" cy="373.2" rx="2.4" ry="1.6" transform="rotate(-25 475.6 373.2)" fill="#6d8ce4"/>
<line x1="470.3" y1="385" x2="472" y2="396" stroke="#4a6fd8" stroke-width="4.8" stroke-linecap="round"/>
<ellipse cx="470.3" cy="384.8" rx="2.3" ry="1.5" transform="rotate(-15 470.3 384.8)" fill="#6d8ce4"/>
<line x1="497" y1="377" x2="485" y2="390" stroke="#4a6fd8" stroke-width="5.4" stroke-linecap="round"/>
<ellipse cx="497.2" cy="376.8" rx="2.6" ry="1.7" transform="rotate(45 497.2 376.8)" fill="#6d8ce4"/>
<ellipse cx="479.3" cy="397.3" rx="6.6" ry="5.8" fill="url(#gFatY)"/>
<path d="M496.00,384.00 C496.92,383.33 498.83,383.00 500.00,383.50 C501.17,384.00 502.25,385.42 503.00,387.00 C503.75,388.58 504.50,391.33 504.50,393.00 C504.50,394.67 503.92,396.50 503.00,397.00 C502.08,397.50 500.25,396.83 499.00,396.00 C497.75,395.17 496.25,393.42 495.50,392.00 C494.75,390.58 494.42,388.83 494.50,387.50 C494.58,386.17 495.08,384.67 496.00,384.00 Z" fill="url(#gFatY)"/>
<path d="M490.5,389 C492,395 493.5,400 495,405 M492,389 C494,394 496,399 497.5,403" fill="none" stroke="#6a4aa0" stroke-width="0.5" opacity="0.7"/>
<path d="M153.10,458.20 C153.27,456.70 153.87,454.13 155.00,453.00 C156.13,451.87 158.40,451.48 159.90,451.40 C161.40,451.32 163.02,451.80 164.00,452.50 C164.98,453.20 165.22,454.35 165.80,455.60 C166.38,456.85 166.63,458.27 167.50,460.00 C168.37,461.73 171.08,464.33 171.00,466.00 C170.92,467.67 168.67,469.83 167.00,470.00 C165.33,470.17 162.67,467.92 161.00,467.00 C159.33,466.08 158.17,465.33 157.00,464.50 C155.83,463.67 154.65,463.05 154.00,462.00 C153.35,460.95 152.93,459.70 153.10,458.20 Z" fill="url(#gBone)"/>
<path d="M222.50,523.00 C223.67,522.00 225.75,523.00 228.00,524.00 C230.25,525.00 233.42,527.75 236.00,529.00 C238.58,530.25 241.67,530.50 243.50,531.50 C245.33,532.50 246.75,533.50 247.00,535.00 C247.25,536.50 246.17,538.92 245.00,540.50 C243.83,542.08 241.58,543.17 240.00,544.50 C238.42,545.83 237.00,548.00 235.50,548.50 C234.00,549.00 232.17,548.58 231.00,547.50 C229.83,546.42 229.50,543.92 228.50,542.00 C227.50,540.08 226.25,538.00 225.00,536.00 C223.75,534.00 221.42,532.17 221.00,530.00 C220.58,527.83 221.33,524.00 222.50,523.00 Z" fill="url(#gBone)"/>
<path d="M164.0,466.9 L164.9,471.8 L166.7,475.7 L168.8,479.5 L171.0,483.2 L173.3,486.7 L175.7,490.2 L178.1,493.7 L180.7,497.1 L183.2,500.4 L185.8,503.7 L188.5,507.0 L191.3,510.2 L194.1,513.3 L196.9,516.4 L199.8,519.4 L202.8,522.4 L205.9,525.4 L208.9,528.2 L212.1,531.1 L215.4,533.8 L218.7,536.5 L222.1,539.1 L225.8,541.4 L230.5,542.9 L231.5,542.1 L230.6,537.2 L228.8,533.3 L226.7,529.5 L224.5,525.8 L222.2,522.3 L219.8,518.8 L217.4,515.3 L214.8,511.9 L212.3,508.6 L209.7,505.3 L207.0,502.0 L204.2,498.8 L201.4,495.7 L198.6,492.6 L195.7,489.6 L192.7,486.6 L189.6,483.6 L186.6,480.8 L183.4,477.9 L180.1,475.2 L176.8,472.5 L173.4,469.9 L169.7,467.6 L165.0,466.1 Z" fill="#f3838b" stroke="#ef6f79" stroke-width="0.6"/>
<path d="M164.8,466.2 L168.8,468.3 L172.2,470.9 L175.4,473.7 L178.6,476.6 L181.6,479.5 L184.7,482.4 L187.6,485.4 L190.6,488.4 L193.5,491.5 L196.3,494.5 L199.2,497.7 L202.0,500.8 L204.7,504.0 L207.4,507.2 L210.1,510.5 L212.7,513.7 L215.3,517.1 L217.9,520.4 L220.4,523.8 L222.9,527.2 L225.3,530.7 L227.6,534.3 L229.8,538.0 L231.3,542.2" fill="none" stroke="#f7b0b4" stroke-width="1.4"/>
<path d="M164.6,466.4 L168.0,469.0 L171.0,472.0 L174.0,474.9 L177.0,478.0 L179.9,481.0 L182.8,484.1 L185.6,487.1 L188.5,490.2 L191.3,493.4 L194.1,496.5 L196.9,499.6 L199.7,502.8 L202.5,506.0 L205.2,509.2 L207.9,512.4 L210.7,515.6 L213.3,518.8 L216.0,522.1 L218.7,525.3 L221.3,528.6 L223.9,531.9 L226.5,535.3 L229.0,538.7 L231.1,542.4" fill="none" stroke="#f9c2c5" stroke-width="1.7"/>
<path d="M164.5,466.5 L167.2,469.8 L169.9,473.0 L172.6,476.2 L175.4,479.4 L178.1,482.5 L180.9,485.7 L183.6,488.9 L186.4,492.1 L189.1,495.3 L191.9,498.4 L194.7,501.6 L197.4,504.8 L200.2,507.9 L203.0,511.1 L205.8,514.3 L208.6,517.4 L211.3,520.6 L214.1,523.7 L216.9,526.9 L219.7,530.0 L222.5,533.2 L225.3,536.3 L228.1,539.4 L231.0,542.5" fill="none" stroke="#fbd2d4" stroke-width="1.7"/>
<path d="M164.3,466.7 L166.3,470.5 L168.8,473.9 L171.3,477.3 L173.8,480.7 L176.4,484.0 L179.0,487.3 L181.7,490.6 L184.4,493.9 L187.1,497.1 L189.8,500.3 L192.5,503.5 L195.3,506.7 L198.0,509.8 L200.9,513.0 L203.7,516.1 L206.5,519.2 L209.4,522.3 L212.3,525.3 L215.2,528.4 L218.2,531.4 L221.2,534.3 L224.2,537.3 L227.3,540.1 L230.8,542.7" fill="none" stroke="#f9c0c3" stroke-width="1.6"/>
<path d="M164.2,466.8 L165.6,471.1 L167.7,474.9 L170.0,478.4 L172.4,482.0 L174.8,485.4 L177.3,488.8 L179.9,492.2 L182.5,495.5 L185.1,498.8 L187.8,502.0 L190.5,505.3 L193.2,508.5 L196.0,511.6 L198.9,514.7 L201.7,517.8 L204.6,520.8 L207.6,523.8 L210.6,526.8 L213.6,529.7 L216.7,532.6 L219.9,535.4 L223.1,538.2 L226.5,540.8 L230.7,542.8" fill="none" stroke="#f6aaae" stroke-width="1.2"/>
<linearGradient id="gTend" gradientUnits="userSpaceOnUse" x1="164.5" y1="466.5" x2="231.0" y2="542.5"><stop offset="0" stop-color="#fdf3f0" stop-opacity="0.95"/><stop offset="0.16" stop-color="#fdf3f0" stop-opacity="0"/><stop offset="0.84" stop-color="#fdf3f0" stop-opacity="0"/><stop offset="1" stop-color="#fdf3f0" stop-opacity="0.95"/></linearGradient>
<path d="M164.0,466.9 L164.9,471.8 L166.7,475.7 L168.8,479.5 L171.0,483.2 L173.3,486.7 L175.7,490.2 L178.1,493.7 L180.7,497.1 L183.2,500.4 L185.8,503.7 L188.5,507.0 L191.3,510.2 L194.1,513.3 L196.9,516.4 L199.8,519.4 L202.8,522.4 L205.9,525.4 L208.9,528.2 L212.1,531.1 L215.4,533.8 L218.7,536.5 L222.1,539.1 L225.8,541.4 L230.5,542.9 L231.5,542.1 L230.6,537.2 L228.8,533.3 L226.7,529.5 L224.5,525.8 L222.2,522.3 L219.8,518.8 L217.4,515.3 L214.8,511.9 L212.3,508.6 L209.7,505.3 L207.0,502.0 L204.2,498.8 L201.4,495.7 L198.6,492.6 L195.7,489.6 L192.7,486.6 L189.6,483.6 L186.6,480.8 L183.4,477.9 L180.1,475.2 L176.8,472.5 L173.4,469.9 L169.7,467.6 L165.0,466.1 Z" fill="url(#gTend)"/>
<path d="M163,464 L170,472" stroke="#fbeeee" stroke-width="3" stroke-linecap="round" opacity="0.9"/>
<path d="M224,533 L231,541" stroke="#fbeeee" stroke-width="3" stroke-linecap="round" opacity="0.9"/>
<g fill="#f5cc48"><circle cx="271.4" cy="526.2" r="1.8"/><circle cx="273.9" cy="524.6" r="1.9"/><circle cx="276.4" cy="523.0" r="2.0"/><circle cx="279.4" cy="522.7" r="2.1"/><circle cx="282.4" cy="522.4" r="1.9"/><circle cx="285.4" cy="522.3" r="2.1"/><circle cx="288.4" cy="522.6" r="1.2"/><circle cx="291.4" cy="522.9" r="1.7"/><circle cx="294.4" cy="523.2" r="2.1"/><circle cx="297.3" cy="523.5" r="1.8"/><circle cx="300.3" cy="523.8" r="2.1"/><circle cx="303.3" cy="523.7" r="1.3"/><circle cx="306.3" cy="523.5" r="1.7"/><circle cx="309.3" cy="523.4" r="1.4"/><circle cx="312.3" cy="523.2" r="1.7"/><circle cx="315.3" cy="523.1" r="1.8"/><circle cx="318.3" cy="522.8" r="1.2"/><circle cx="321.3" cy="522.4" r="1.4"/><circle cx="324.2" cy="521.9" r="1.5"/><circle cx="327.2" cy="521.5" r="2.1"/><circle cx="330.2" cy="521.0" r="2.0"/><circle cx="333.1" cy="520.6" r="1.4"/><circle cx="336.1" cy="520.1" r="2.0"/><circle cx="339.1" cy="519.7" r="1.3"/><circle cx="342.0" cy="519.3" r="1.8"/><circle cx="345.0" cy="518.9" r="1.3"/><circle cx="348.0" cy="519.3" r="1.2"/><circle cx="350.8" cy="519.9" r="2.1"/><circle cx="351.5" cy="522.9" r="1.4"/><circle cx="349.9" cy="525.4" r="1.4"/><circle cx="348.2" cy="527.9" r="2.2"/><circle cx="345.7" cy="529.5" r="2.1"/><circle cx="343.2" cy="531.2" r="1.5"/><circle cx="340.7" cy="532.8" r="2.2"/><circle cx="338.2" cy="534.5" r="1.7"/><circle cx="335.4" cy="535.5" r="1.9"/><circle cx="332.6" cy="536.6" r="1.4"/><circle cx="329.8" cy="537.6" r="2.1"/><circle cx="327.0" cy="538.7" r="1.9"/><circle cx="324.1" cy="539.6" r="2.2"/><circle cx="321.2" cy="540.3" r="2.1"/><circle cx="318.3" cy="541.1" r="1.5"/><circle cx="315.4" cy="541.8" r="1.6"/><circle cx="312.5" cy="542.5" r="1.4"/><circle cx="309.6" cy="543.5" r="1.3"/><circle cx="306.8" cy="544.4" r="1.3"/><circle cx="303.9" cy="545.3" r="1.5"/><circle cx="301.5" cy="546.9" r="1.8"/><circle cx="299.4" cy="549.0" r="1.2"/><circle cx="297.2" cy="551.0" r="1.9"/><circle cx="294.5" cy="552.3" r="1.5"/><circle cx="291.8" cy="553.6" r="1.5"/><circle cx="288.9" cy="554.0" r="2.0"/><circle cx="285.9" cy="554.0" r="1.7"/><circle cx="282.9" cy="554.0" r="1.5"/><circle cx="280.2" cy="552.7" r="1.7"/><circle cx="277.5" cy="551.4" r="1.9"/><circle cx="275.4" cy="549.3" r="1.3"/><circle cx="273.9" cy="546.8" r="2.2"/><circle cx="272.3" cy="544.2" r="1.2"/><circle cx="271.8" cy="541.3" r="1.9"/><circle cx="271.3" cy="538.3" r="2.0"/><circle cx="270.8" cy="535.3" r="1.2"/><circle cx="270.8" cy="532.4" r="2.0"/><circle cx="271.1" cy="529.4" r="1.6"/><circle cx="271.4" cy="526.4" r="1.8"/></g>
<path d="M271.40,526.20 C272.35,524.30 274.12,523.67 276.30,523.00 C278.48,522.33 280.42,522.07 284.50,522.20 C288.58,522.33 295.35,523.67 300.80,523.80 C306.25,523.93 311.75,523.55 317.20,523.00 C322.65,522.45 328.87,521.18 333.50,520.50 C338.13,519.82 342.13,519.03 345.00,518.90 C347.87,518.77 349.62,519.02 350.70,519.70 C351.78,520.38 351.92,521.63 351.50,523.00 C351.08,524.37 350.38,526.00 348.20,527.90 C346.02,529.80 342.20,532.50 338.40,534.40 C334.60,536.30 329.75,537.93 325.40,539.30 C321.05,540.67 316.12,541.52 312.30,542.60 C308.48,543.68 304.95,544.43 302.50,545.80 C300.05,547.17 299.52,549.43 297.60,550.80 C295.68,552.17 293.45,553.47 291.00,554.00 C288.55,554.53 285.35,554.53 282.90,554.00 C280.45,553.47 278.07,552.43 276.30,550.80 C274.53,549.17 273.25,546.93 272.30,544.20 C271.35,541.47 270.75,537.40 270.60,534.40 C270.45,531.40 270.45,528.10 271.40,526.20 Z" fill="url(#gPanc)"/>
<path d="M271.40,526.20 C272.35,524.30 274.12,523.67 276.30,523.00 C278.48,522.33 280.42,522.07 284.50,522.20 C288.58,522.33 295.35,523.67 300.80,523.80 C306.25,523.93 311.75,523.55 317.20,523.00 C322.65,522.45 328.87,521.18 333.50,520.50 C338.13,519.82 342.13,519.03 345.00,518.90 C347.87,518.77 349.62,519.02 350.70,519.70 C351.78,520.38 351.92,521.63 351.50,523.00 C351.08,524.37 350.38,526.00 348.20,527.90 C346.02,529.80 342.20,532.50 338.40,534.40 C334.60,536.30 329.75,537.93 325.40,539.30 C321.05,540.67 316.12,541.52 312.30,542.60 C308.48,543.68 304.95,544.43 302.50,545.80 C300.05,547.17 299.52,549.43 297.60,550.80 C295.68,552.17 293.45,553.47 291.00,554.00 C288.55,554.53 285.35,554.53 282.90,554.00 C280.45,553.47 278.07,552.43 276.30,550.80 C274.53,549.17 273.25,546.93 272.30,544.20 C271.35,541.47 270.75,537.40 270.60,534.40 C270.45,531.40 270.45,528.10 271.40,526.20 Z" fill="url(#pPanc)"/>
<ellipse cx="425.5" cy="534.8" rx="6.4" ry="6" fill="#1fa93a"/>
<path d="M420.50,473.40 C422.95,472.72 424.62,472.12 428.70,471.70 C432.78,471.28 439.18,471.05 445.00,470.90 C450.82,470.75 457.77,470.78 463.60,470.80 C469.43,470.82 473.78,470.82 480.00,471.00 C486.22,471.18 496.57,471.48 500.90,471.90 C505.23,472.32 504.87,472.90 506.00,473.50 C507.13,474.10 507.90,474.30 507.70,475.50 C507.50,476.70 506.17,478.70 504.80,480.70 C503.43,482.70 501.07,485.65 499.50,487.50 C497.93,489.35 496.75,490.08 495.40,491.80 C494.05,493.52 492.93,495.70 491.40,497.80 C489.87,499.90 488.15,502.53 486.20,504.40 C484.25,506.27 481.88,508.02 479.70,509.00 C477.52,509.98 475.22,510.17 473.10,510.30 C470.98,510.43 468.43,510.10 467.00,509.80 C465.57,509.50 465.12,508.88 464.50,508.50 C463.88,508.12 464.70,506.88 463.30,507.50 C461.90,508.12 458.82,510.53 456.10,512.20 C453.38,513.87 450.05,515.97 447.00,517.50 C443.95,519.03 440.63,520.15 437.80,521.40 C434.97,522.65 432.05,523.93 430.00,525.00 C427.95,526.07 426.87,526.88 425.50,527.80 C424.13,528.72 422.80,529.38 421.80,530.50 C420.80,531.62 420.18,533.18 419.50,534.50 C418.82,535.82 418.68,537.20 417.70,538.40 C416.72,539.60 415.10,540.95 413.60,541.70 C412.10,542.45 410.33,542.90 408.70,542.90 C407.07,542.90 405.17,542.45 403.80,541.70 C402.43,540.95 401.25,539.90 400.50,538.40 C399.75,536.90 399.37,534.60 399.30,532.70 C399.23,530.80 399.62,529.05 400.10,527.00 C400.58,524.95 401.53,522.90 402.20,520.40 C402.87,517.90 403.80,514.90 404.10,512.00 C404.40,509.10 404.03,505.67 404.00,503.00 C403.97,500.33 403.85,498.08 403.90,496.00 C403.95,493.92 403.98,492.37 404.30,490.50 C404.62,488.63 405.02,486.57 405.80,484.80 C406.58,483.03 407.63,481.40 409.00,479.90 C410.37,478.40 412.08,476.88 414.00,475.80 C415.92,474.72 418.05,474.08 420.50,473.40 Z" fill="#b5532b" stroke="#9a3e1c" stroke-width="0.6"/>
<ellipse cx="432" cy="484" rx="21" ry="9" fill="url(#gLiverHi)"/>
<ellipse cx="487" cy="478" rx="12" ry="5" fill="url(#gLiverHi)"/>
<path d="M464.4,470.5 C465.4,483 465,497 465.2,509" fill="none" stroke="#f2ecec" stroke-width="2.6"/>
<path d="M461.40,507.80 C460.33,508.50 456.97,510.83 455.00,512.00 C453.03,513.17 451.60,513.80 449.60,514.80 C447.60,515.80 445.18,516.97 443.00,518.00 C440.82,519.03 438.67,520.03 436.50,521.00 C434.33,521.97 431.92,522.88 430.00,523.80 C428.08,524.72 426.50,525.55 425.00,526.50 C423.50,527.45 422.08,528.33 421.00,529.50 C419.92,530.67 419.25,532.17 418.50,533.50 C417.75,534.83 417.45,536.37 416.50,537.50 C415.55,538.63 414.10,539.67 412.80,540.30 C411.50,540.93 410.17,541.30 408.70,541.30 C407.23,541.30 405.20,540.85 404.00,540.30 C402.80,539.75 401.92,538.38 401.50,538.00" fill="none" stroke="#4a1a0a" stroke-width="1"/>
<path d="M469.20,507.00 C470.30,506.93 473.40,507.27 475.80,506.60 C478.20,505.93 481.22,504.90 483.60,503.00 C485.98,501.10 488.58,497.03 490.10,495.20 C491.62,493.37 492.27,492.53 492.70,492.00" fill="none" stroke="#4a1a0a" stroke-width="0.9"/>
</svg>
</body></html>
